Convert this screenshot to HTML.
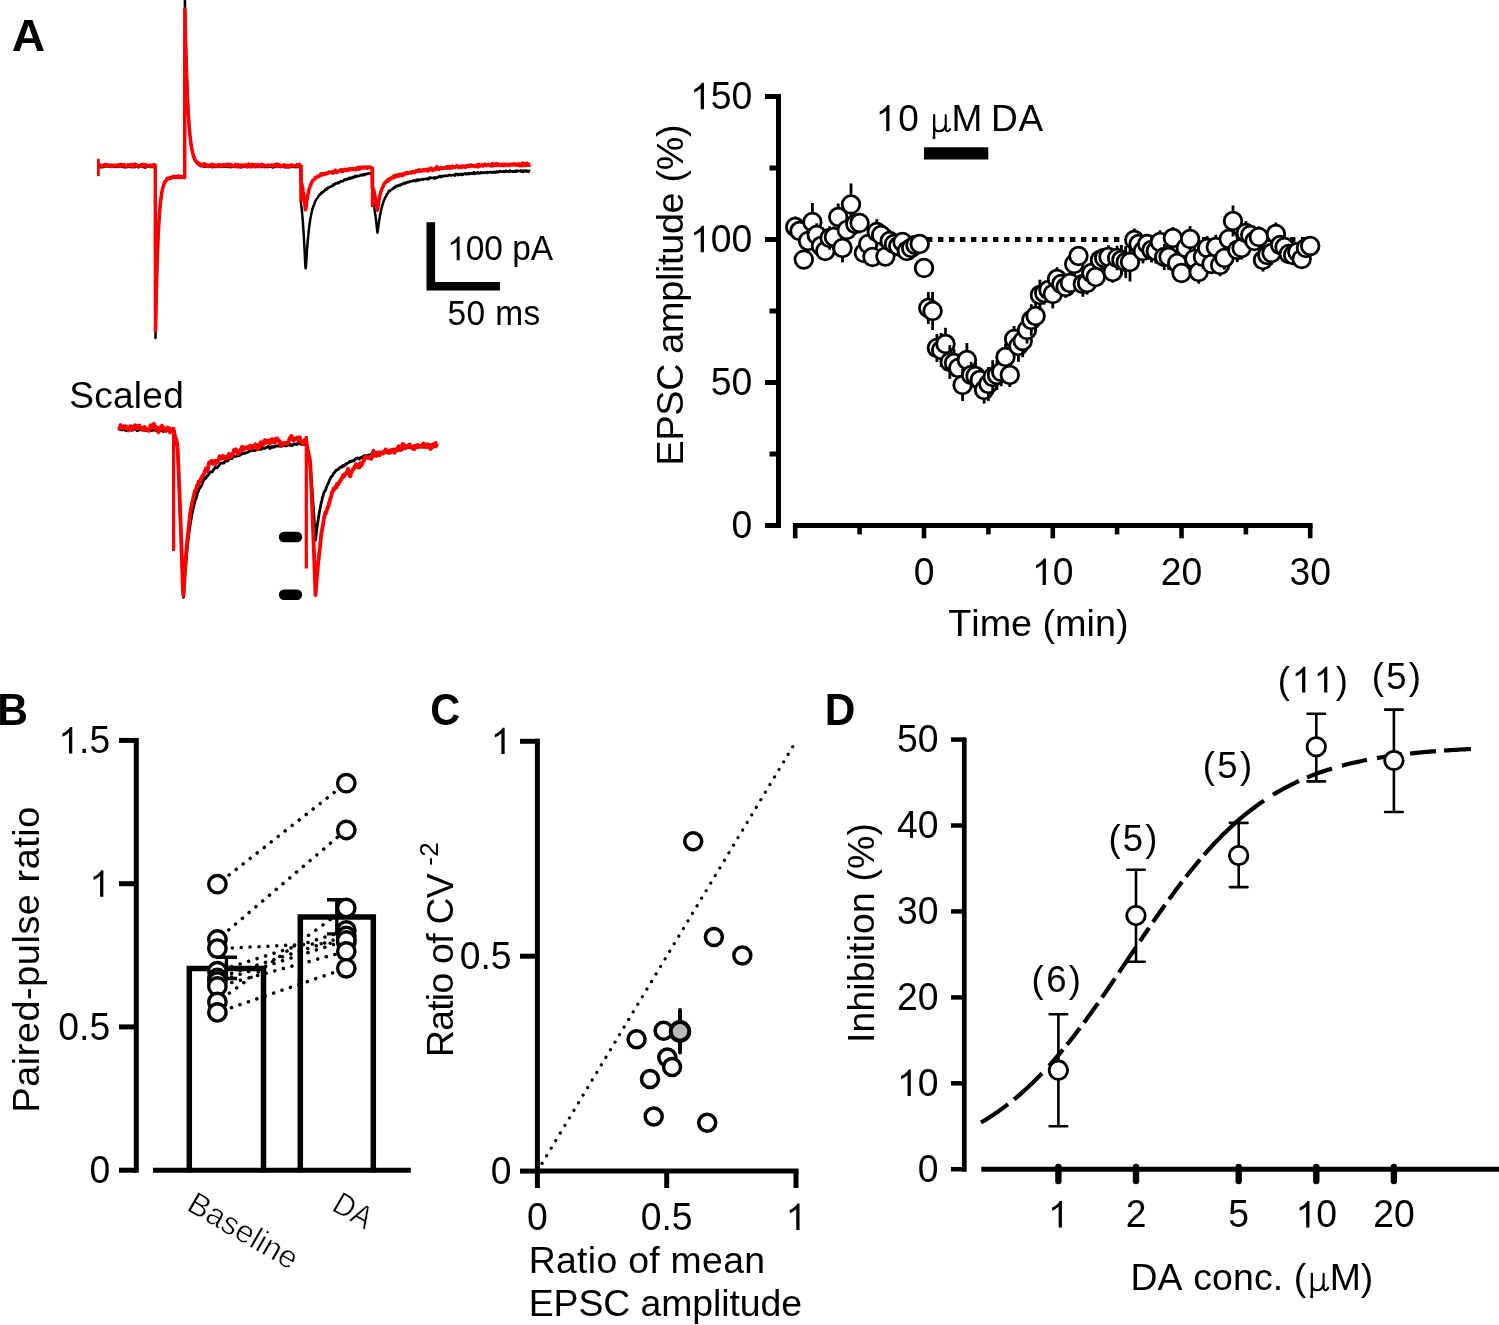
<!DOCTYPE html>
<html><head><meta charset="utf-8"><title>Figure</title>
<style>
html,body{margin:0;padding:0;background:#fff;}
svg{display:block;will-change:transform;}
text{font-family:"Liberation Sans",sans-serif;fill:#000;white-space:pre;}
</style></head><body>
<svg width="1499" height="1325" viewBox="0 0 1499 1325" font-family="Liberation Sans, sans-serif" fill="#000">
<rect x="0" y="0" width="1499" height="1325" fill="#fff"/>
<g fill="none" stroke-linejoin="round" stroke-linecap="butt">
<path d="M98.3 166.6 L98.8 167.1 L99.3 166.2 L99.8 167 L100.3 166.5 L100.8 166.5 L101.3 167.4 L101.8 166.7 L102.3 166.6 L102.8 166.9 L103.3 167.1 L103.8 166.6 L104.3 166.8 L104.8 166.2 L105.3 166.5 L105.8 166.4 L106.3 166.1 L106.8 166 L107.3 165.9 L107.8 166.5 L108.3 166.5 L108.8 166.5 L109.3 166.6 L109.8 166.1 L110.3 166.6 L110.8 166.7 L111.3 166.9 L111.8 166.3 L112.3 166.4 L112.8 165.8 L113.3 166.4 L113.8 165.7 L114.3 166 L114.8 167 L115.3 165.7 L115.8 166.9 L116.3 166.7 L116.8 166.5 L117.3 166.8 L117.8 166.8 L118.3 167 L118.8 166.5 L119.3 166.4 L119.8 166.4 L120.3 166.2 L120.8 166.6 L121.3 166.3 L121.8 167 L122.3 165.9 L122.8 166.2 L123.3 166.2 L123.8 165.8 L124.3 167.4 L124.8 165.6 L125.3 166.5 L125.8 166.4 L126.3 167.3 L126.8 165.8 L127.3 167 L127.8 166.3 L128.3 166.5 L128.8 166.3 L129.3 166.9 L129.8 166.1 L130.3 166.6 L130.8 166.7 L131.3 167.3 L131.8 165.6 L132.3 167.2 L132.8 167 L133.3 166.4 L133.8 166.7 L134.3 166.4 L134.8 167.3 L135.3 166.7 L135.8 166.5 L136.3 166.5 L136.8 166.5 L137.3 166.5 L137.8 166.2 L138.3 167.4 L138.8 165.8 L139.3 165.2 L139.8 166.6 L140.3 166.5 L140.8 166.7 L141.3 166.5 L141.8 166.5 L142.3 166.7 L142.8 167 L143.3 166.4 L143.8 166.5 L144.3 167.4 L144.8 166.8 L145.3 166.2 L145.8 167.5 L146.3 166.9 L146.8 166.4 L147.3 166.1 L147.8 166.7 L148.3 166.3 L148.8 166.2 L149.3 166.1 L149.8 166.4 L150.3 167 L150.8 166.4 L151.3 166 L151.8 166.9 L152.3 166.6 L152.8 166.9 L153.3 167.1 L153.8 166.5 L154.3 166.5 L154.8 166.6 L155.3 166.6 L155.5 338 L155.7 327.7 L156.1 307.4 L156.5 289.8 L156.9 274.1 L157.3 260.7 L157.7 249.2 L158.1 239.2 L158.5 230.7 L158.9 223.4 L159.3 217 L159.7 211.6 L160.1 206.6 L160.5 203 L160.9 199.4 L161.3 196.1 L161.7 193.2 L162.1 191.4 L162.5 189.8 L162.9 187.6 L163.3 186.2 L163.7 184.9 L164.1 184.1 L164.5 182.8 L164.9 182.5 L165.3 181.4 L165.7 181.1 L166.1 180.4 L166.5 179.9 L166.9 179.2 L167.3 179 L167.7 178.8 L168.1 178.8 L168.5 178.5 L168.9 178 L169.3 178.1 L169.7 178.1 L170.1 177.7 L170.5 177.5 L170.9 177.5 L171.3 177.7 L171.7 177.5 L172.1 177.1 L172.5 177.4 L172.9 177.1 L173.3 177 L173.7 177.4 L174.1 177.3 L174.5 176.9 L174.9 177.1 L175.3 177.2 L175.7 176.9 L176.1 177 L176.5 177.1 L176.9 176.5 L177.3 177 L177.7 177.1 L178.1 177 L178.5 176.6 L178.9 177 L179.3 176.7 L179.7 177 L180.1 177 L180.5 176.9 L180.9 176.7 L181.3 176.7 L181.7 177.1 L182.1 176.6 L182.5 177 L182.9 177 L183.3 176.8 L183.7 177.4 L184.1 176.9 L184.5 177.4 L184.7 176.8 L184.9 0 L185.1 9.2 L185.5 30.6 L186 49.7 L186.4 65.6 L186.9 79.2 L187.3 91.2 L187.8 101.1 L188.2 110.2 L188.7 117.8 L189.1 124.5 L189.6 130.5 L190 135.2 L190.5 139.5 L190.9 143 L191.4 146.2 L191.8 149.1 L192.3 151.3 L192.7 153.7 L193.2 155 L193.6 157.1 L194.1 157.8 L194.5 159.4 L195 160 L195.4 161.3 L195.9 161.8 L196.3 162.5 L196.8 163.1 L197.2 163.2 L197.7 163.4 L198.1 163.4 L198.6 165 L199 164.5 L199.5 164.7 L199.9 165.2 L200.4 166.1 L200.8 164.8 L201.3 165.7 L201.7 165.6 L202.2 166.1 L202.6 165.2 L203.1 165.9 L203.5 166.4 L204 166.8 L204.4 166.8 L204.9 165.9 L205.3 166.3 L205.8 166.3 L206.2 165.8 L206.7 165.8 L207.1 166.7 L207.6 166.5 L208 166.4 L208.5 166.9 L208.9 166 L209.4 166.7 L209.8 166.5 L210.3 166.5 L210.7 166.7 L211.2 166.6 L211.6 166.6 L212.1 166.6 L212.5 167.3 L213 166.4 L213.4 166.9 L213.9 166.8 L214.3 166.4 L214.8 166.9 L215.2 166.2 L215.7 167 L216.1 166.2 L216.6 166.4 L217 166.7 L217.5 166.9 L217.9 166.9 L218.4 166.9 L218.8 166.5 L219.3 166.2 L219.7 166.8 L220.2 166.7 L220.6 166.2 L221.1 167 L221.5 166.7 L222 166.2 L222.4 166.8 L222.9 166 L223.3 166.2 L223.8 166.7 L224.2 166 L224.7 166.6 L225.1 166 L225.6 166.9 L226 166.3 L226.5 166.7 L226.9 166 L227.4 166.4 L227.8 167 L228.3 166.8 L228.7 165.9 L229.2 167 L229.6 166.9 L230.1 166.4 L230.5 167.2 L231 166.2 L231.4 166.6 L231.9 167 L232.3 167.1 L232.8 167.1 L233.2 166.2 L233.7 165.9 L234.1 166.7 L234.6 166 L235 166.5 L235.5 166.1 L235.9 167 L236.4 166.9 L236.8 166.8 L237.3 166.6 L237.7 166.6 L238.2 166.5 L238.6 166.7 L239.1 166.7 L239.5 166.8 L240 166.4 L240.4 167.4 L240.9 166.7 L241.3 167.2 L241.8 167.1 L242.2 166.2 L242.7 165.9 L243.1 167.1 L243.6 166.4 L244 166.6 L244.5 166.5 L244.9 166.6 L245.4 166.1 L245.8 166.6 L246.3 166.4 L246.7 166.6 L247.2 165.7 L247.6 166.9 L248.1 166.7 L248.5 165.9 L249 166.3 L249.4 166.6 L249.9 166.9 L250.3 166.6 L250.8 167.2 L251.2 166.6 L251.7 166.2 L252.1 166.3 L252.6 166.9 L253 166.4 L253.5 166.9 L253.9 167 L254.4 166.8 L254.8 167 L255.3 166.5 L255.7 166.6 L256.2 166.4 L256.6 166.4 L257.1 166 L257.5 166.4 L258 166.2 L258.4 166 L258.9 166.7 L259.3 166.8 L259.8 166.5 L260.2 167.1 L260.7 167 L261.1 167 L261.6 166.4 L262 166 L262.5 166.8 L262.9 166.7 L263.4 166.9 L263.8 166.8 L264.3 167.1 L264.7 166.5 L265.2 166.9 L265.6 166.2 L266.1 165.7 L266.5 166.4 L267 167.2 L267.4 165.9 L267.9 167 L268.3 166.3 L268.8 166.4 L269.2 166.6 L269.7 166.7 L270.1 166.2 L270.6 166.7 L271 166.8 L271.5 166.9 L271.9 166.3 L272.4 167.2 L272.8 167.4 L273.3 167.6 L273.7 166.1 L274.2 166.7 L274.6 165.9 L275.1 166.8 L275.5 166.8 L276 166.1 L276.4 166 L276.9 166.7 L277.3 166.9 L277.8 166.3 L278.2 166.5 L278.7 165.6 L279.1 166.3 L279.6 166.7 L280 166.7 L280.5 167.2 L280.9 166.1 L281.4 165.7 L281.8 166.8 L282.3 166.4 L282.7 166.7 L283.2 166.9 L283.6 166.8 L284.1 167.2 L284.5 167.1 L285 165.9 L285.4 166.6 L285.9 167.4 L286.3 166.4 L286.8 167 L287.2 166.6 L287.7 166.4 L288.1 167.2 L288.6 167 L289 166.5 L289.5 167 L289.9 166.1 L290.4 166.3 L290.8 167 L291.3 166.6 L291.7 166.2 L292.2 166.8 L292.6 166.7 L293.1 167.1 L293.5 167 L294 166.5 L294.4 166.4 L294.9 166.5 L295.3 166.5 L295.8 167.2 L296.2 167.2 L296.7 167.1 L297.1 166.8 L297.6 166.5 L298 167 L298.5 166.5 L298.9 166.7 L299.4 165.9 L299.8 166.4 L300.3 167.2 L300.7 166.2 L301 203.7 L301.4 206.4 L301.9 210.5 L302.3 215.3 L302.8 220.8 L303.2 227.2 L303.7 234.4 L304.1 242 L304.6 250.3 L305 259.1 L305.5 268.2 L305.9 267.7 L306.4 259.8 L306.8 252.8 L307.3 246.5 L307.7 241.2 L308.2 236.5 L308.6 231.8 L309.1 227.9 L309.5 224.6 L310 221.4 L310.4 218.5 L310.9 216.3 L311.3 213.8 L311.8 211.8 L312.2 209.8 L312.7 208.1 L313.1 206.9 L313.6 205.9 L314 205 L314.5 203.5 L314.9 202.2 L315.4 200.8 L315.8 200.4 L316.3 199.2 L316.7 198.8 L317.2 198.5 L317.6 197.6 L318.1 196.8 L318.5 196 L319 195.7 L319.4 195.2 L319.9 194.3 L320.3 194 L320.8 194.1 L321.2 192.7 L321.7 192.8 L322.1 192.1 L322.6 192.8 L323 192 L323.5 191.6 L323.9 191.2 L324.4 190.8 L324.8 190.5 L325.3 189.4 L325.7 189.8 L326.2 189.7 L326.6 188.5 L327.1 189.2 L327.5 188.8 L328 187.6 L328.4 187.8 L328.9 187.6 L329.3 187.2 L329.8 187.3 L330.2 186.4 L330.7 186.5 L331.1 186.5 L331.6 186.4 L332 185.9 L332.5 185.5 L332.9 185.7 L333.4 184.4 L333.8 185.3 L334.3 184.6 L334.7 184 L335.2 184.1 L335.6 183.3 L336.1 183 L336.5 183.5 L337 183.1 L337.4 183.5 L337.9 182.6 L338.3 182.2 L338.8 182.2 L339.2 183 L339.7 182.2 L340.1 181.7 L340.6 181.4 L341 181.1 L341.5 181.3 L341.9 181.4 L342.4 181.5 L342.8 181.3 L343.3 180.8 L343.7 180.2 L344.2 180 L344.6 179.2 L345.1 179.6 L345.5 180 L346 179.5 L346.4 179.6 L346.9 178.8 L347.3 179.5 L347.8 179.1 L348.2 178.9 L348.7 178.9 L349.1 177.7 L349.6 178.2 L350 177.9 L350.5 178.8 L350.9 177.9 L351.4 177.6 L351.8 178 L352.3 177.1 L352.7 178 L353.2 177 L353.6 177.1 L354.1 176.7 L354.5 177.2 L355 175.9 L355.4 176.9 L355.9 176.2 L356.3 176.4 L356.8 175.8 L357.2 176.2 L357.7 176.1 L358.1 176.2 L358.6 175.9 L359 175.9 L359.5 176 L359.9 175.3 L360.4 174.9 L360.8 174.7 L361.3 175.4 L361.7 174.9 L362.2 175.3 L362.6 174.8 L363.1 174.3 L363.5 175 L364 175.3 L364.4 174.3 L364.9 173.9 L365.3 173.9 L365.8 174.5 L366.2 173.8 L366.7 173.8 L367.1 174.1 L367.6 173.8 L368 173.7 L368.5 173.4 L368.9 173.2 L369.4 173.5 L369.8 173.4 L370.3 173.5 L370.7 173 L371.2 173.2 L371.6 173.2 L372.1 173 L372.4 200.5 L372.9 201.7 L373.4 203.5 L373.9 205.9 L374.4 208.6 L374.9 212 L375.4 215.4 L375.9 219.2 L376.4 223.3 L376.9 227.8 L377.4 232.7 L377.9 229.9 L378.4 225.9 L378.9 222.4 L379.4 219 L379.9 216.2 L380.4 213.4 L380.9 211 L381.4 208.9 L381.9 207 L382.4 205.1 L382.9 203.4 L383.4 202 L383.9 200.5 L384.4 199.7 L384.9 198.1 L385.4 197.2 L385.9 196.6 L386.4 195.6 L386.9 194.1 L387.4 193.7 L387.9 193.3 L388.4 192.1 L388.9 190.9 L389.4 191.3 L389.9 190.8 L390.4 190.5 L390.9 190 L391.4 189.6 L391.9 189.2 L392.4 189.3 L392.9 188.6 L393.4 188.3 L393.9 187.6 L394.4 187.9 L394.9 187.1 L395.4 187.2 L395.9 185.8 L396.4 186.5 L396.9 186.1 L397.4 185.7 L397.9 186.2 L398.4 185.6 L398.9 185.2 L399.4 184.8 L399.9 185.6 L400.4 185 L400.9 184.7 L401.4 184 L401.9 184.6 L402.4 184.2 L402.9 183.7 L403.4 183.6 L403.9 182.8 L404.4 183.6 L404.9 182.7 L405.4 183.4 L405.9 182.7 L406.4 182.5 L406.9 182.7 L407.4 182.5 L407.9 181.9 L408.4 182.2 L408.9 182.3 L409.4 181.8 L409.9 181.3 L410.4 181.6 L410.9 181.2 L411.4 181.2 L411.9 181.4 L412.4 181.2 L412.9 181 L413.4 180.3 L413.9 181 L414.4 180.7 L414.9 180.5 L415.4 180.6 L415.9 181.2 L416.4 179.9 L416.9 179.6 L417.4 180.5 L417.9 179.8 L418.4 180.5 L418.9 179.5 L419.4 179.6 L419.9 180 L420.4 180 L420.9 179.7 L421.4 179.6 L421.9 179.3 L422.4 179.1 L422.9 179.1 L423.4 179.6 L423.9 179.3 L424.4 179 L424.9 179 L425.4 179.1 L425.9 179.2 L426.4 178.6 L426.9 178.6 L427.4 178.7 L427.9 179.5 L428.4 178.5 L428.9 178.8 L429.4 177.6 L429.9 178.5 L430.4 177.6 L430.9 177.6 L431.4 177.8 L431.9 177.9 L432.4 178 L432.9 177.9 L433.4 177.8 L433.9 177.4 L434.4 178.6 L434.9 177.6 L435.4 177.6 L435.9 178.1 L436.4 177.6 L436.9 177.4 L437.4 177.2 L437.9 177.7 L438.4 176.5 L438.9 176.4 L439.4 176.8 L439.9 175.9 L440.4 176.3 L440.9 177 L441.4 176.3 L441.9 176.4 L442.4 176.6 L442.9 175.8 L443.4 176.3 L443.9 175.8 L444.4 175.6 L444.9 175.8 L445.4 175.9 L445.9 175.7 L446.4 175.5 L446.9 176.1 L447.4 176.1 L447.9 175.8 L448.4 175.5 L448.9 175 L449.4 175.1 L449.9 174.9 L450.4 175.4 L450.9 175.6 L451.4 175.5 L451.9 175.1 L452.4 174.9 L452.9 175.1 L453.4 175 L453.9 175.1 L454.4 175.4 L454.9 174.5 L455.4 175.6 L455.9 173.8 L456.4 173.9 L456.9 174 L457.4 174.1 L457.9 174.4 L458.4 175.2 L458.9 174.1 L459.4 174.8 L459.9 174.1 L460.4 174.3 L460.9 173.8 L461.4 175 L461.9 174.1 L462.4 173.8 L462.9 174.9 L463.4 174 L463.9 174.1 L464.4 173.8 L464.9 173.5 L465.4 173.2 L465.9 173.7 L466.4 174.4 L466.9 173.8 L467.4 173.6 L467.9 174 L468.4 173.2 L468.9 174.1 L469.4 173.5 L469.9 173.1 L470.4 173.7 L470.9 173.6 L471.4 173.2 L471.9 173.4 L472.4 173.6 L472.9 173.8 L473.4 172.9 L473.9 172.1 L474.4 173.9 L474.9 173 L475.4 172.9 L475.9 173.2 L476.4 172.8 L476.9 173.4 L477.4 172.4 L477.9 172.8 L478.4 172.4 L478.9 173.4 L479.4 172.7 L479.9 173.2 L480.4 173.3 L480.9 172.2 L481.4 172.6 L481.9 172.9 L482.4 172.7 L482.9 172.6 L483.4 172.9 L483.9 172.9 L484.4 172.3 L484.9 172.4 L485.4 172.7 L485.9 172.5 L486.4 172.5 L486.9 172 L487.4 173.1 L487.9 172.3 L488.4 172.4 L488.9 172.3 L489.4 172.3 L489.9 172.3 L490.4 171.9 L490.9 172.4 L491.4 172.7 L491.9 172.3 L492.4 172.4 L492.9 172.3 L493.4 172.1 L493.9 172.8 L494.4 171.8 L494.9 172.2 L495.4 172.4 L495.9 172.1 L496.4 171.5 L496.9 171.5 L497.4 172.5 L497.9 171.5 L498.4 171.9 L498.9 172.1 L499.4 171.9 L499.9 171.1 L500.4 171.1 L500.9 171.8 L501.4 171.5 L501.9 171.7 L502.4 171.8 L502.9 171.8 L503.4 171.2 L503.9 171 L504.4 172 L504.9 171.4 L505.4 171.2 L505.9 170.8 L506.4 171.8 L506.9 171.1 L507.4 171.2 L507.9 171.8 L508.4 171.7 L508.9 171.8 L509.4 171 L509.9 170.4 L510.4 171.1 L510.9 171.3 L511.4 171.2 L511.9 171.8 L512.4 171.6 L512.9 171 L513.4 171.6 L513.9 171.3 L514.4 171.2 L514.9 171.8 L515.4 170.7 L515.9 171.7 L516.4 171.8 L516.9 170.5 L517.4 171.2 L517.9 171.2 L518.4 170.8 L518.9 171 L519.4 170.9 L519.9 171.3 L520.4 171 L520.9 170.4 L521.4 171.7 L521.9 171.5 L522.4 170.8 L522.9 171.5 L523.4 172 L523.9 170.5 L524.4 171 L524.9 170.9 L525.4 171.3 L525.9 171 L526.4 170.5 L526.9 171.6 L527.4 170.9 L527.9 171.4 L528.4 172 L528.9 170.7 L529.4 170.9 L529.9 171.4" stroke="#000" stroke-width="2.5"/>
<path d="M98.3 165.4 L98.8 165.8 L99.3 165.4 L99.8 165.3 L100.3 165 L100.8 165.4 L101.3 166.1 L101.8 165.7 L102.3 166.1 L102.8 165.6 L103.3 165.7 L103.8 165.6 L104.3 164.6 L104.8 166 L105.3 165.8 L105.8 165.8 L106.3 164.6 L106.8 164.5 L107.3 165 L107.8 165.2 L108.3 165.7 L108.8 165.5 L109.3 165.8 L109.8 165.1 L110.3 165.7 L110.8 165.7 L111.3 165.1 L111.8 166.4 L112.3 165.8 L112.8 166.2 L113.3 165.2 L113.8 165.1 L114.3 165.3 L114.8 165.4 L115.3 165.8 L115.8 165.6 L116.3 165.3 L116.8 165 L117.3 165.2 L117.8 166.2 L118.3 165.1 L118.8 165.6 L119.3 165.7 L119.8 164.7 L120.3 165.5 L120.8 166.2 L121.3 164.4 L121.8 165.3 L122.3 165.4 L122.8 165.1 L123.3 165.8 L123.8 165.5 L124.3 164.7 L124.8 166 L125.3 165.9 L125.8 166 L126.3 166.3 L126.8 165.7 L127.3 165.6 L127.8 164.8 L128.3 165.8 L128.8 165.2 L129.3 165.3 L129.8 164.8 L130.3 165 L130.8 165.2 L131.3 166.2 L131.8 164.4 L132.3 164.7 L132.8 165.6 L133.3 166.3 L133.8 165.8 L134.3 164.5 L134.8 164.1 L135.3 165.7 L135.8 165.1 L136.3 164.9 L136.8 166 L137.3 166.1 L137.8 165.6 L138.3 165.6 L138.8 165.7 L139.3 166.4 L139.8 165.8 L140.3 165.8 L140.8 165.8 L141.3 164.6 L141.8 166.2 L142.3 166 L142.8 165.8 L143.3 164.4 L143.8 165.2 L144.3 166 L144.8 164.5 L145.3 165.4 L145.8 166.1 L146.3 164.8 L146.8 166.4 L147.3 165.8 L147.8 165.4 L148.3 165.7 L148.8 165.9 L149.3 165.6 L149.8 166.1 L150.3 165.1 L150.8 165.3 L151.3 166.1 L151.8 165.5 L152.3 165 L152.8 166 L153.3 166.3 L153.8 165.3 L154.3 164.7 L154.8 165.4 L155.3 165.5 L155.5 331 L155.7 321.4 L156.1 301.6 L156.5 285.1 L156.9 269.5 L157.3 257.6 L157.7 245.8 L158.1 236.5 L158.5 228.8 L158.9 221.9 L159.3 215.8 L159.7 210.3 L160.1 205.8 L160.5 201.9 L160.9 198.6 L161.3 195.5 L161.7 193.1 L162.1 191 L162.5 189 L162.9 187.6 L163.3 186.1 L163.7 185.4 L164.1 183.8 L164.5 182.6 L164.9 181.9 L165.3 181.3 L165.7 181.1 L166.1 180.1 L166.5 179.9 L166.9 180 L167.3 178.2 L167.7 178.4 L168.1 178.6 L168.5 178.5 L168.9 178.2 L169.3 177.9 L169.7 178.1 L170.1 177.8 L170.5 177.5 L170.9 178.3 L171.3 177.6 L171.7 177.2 L172.1 177.3 L172.5 177.2 L172.9 177.2 L173.3 176.3 L173.7 177 L174.1 177.4 L174.5 176.7 L174.9 177 L175.3 177.3 L175.7 177.3 L176.1 177.5 L176.5 176.4 L176.9 176.8 L177.3 176.8 L177.7 177.1 L178.1 177.3 L178.5 176 L178.9 177.3 L179.3 176.4 L179.7 177.1 L180.1 176.4 L180.5 176.9 L180.9 177.3 L181.3 176.8 L181.7 176.9 L182.1 177.1 L182.5 176.9 L182.9 176.8 L183.3 177.4 L183.7 177.2 L184.1 176.7 L184.5 177.7 L184.7 176.8 L184.9 9 L185.1 17.6 L185.5 38.4 L186 55.4 L186.4 70.5 L186.9 83.6 L187.3 94.7 L187.8 104.5 L188.2 112.2 L188.7 119.4 L189.1 126.2 L189.6 131.1 L190 135.7 L190.5 139.6 L190.9 143.8 L191.4 146.6 L191.8 149.4 L192.3 150.9 L192.7 153.1 L193.2 154.5 L193.6 156.4 L194.1 157.9 L194.5 158.3 L195 159.9 L195.4 160.5 L195.9 160.9 L196.3 161 L196.8 162.4 L197.2 162.4 L197.7 162.5 L198.1 163.4 L198.6 163.7 L199 164.6 L199.5 163.4 L199.9 164.8 L200.4 165.1 L200.8 165.3 L201.3 164.5 L201.7 164.3 L202.2 165.3 L202.6 164.9 L203.1 165 L203.5 165.8 L204 164.9 L204.4 163.8 L204.9 164.9 L205.3 164.2 L205.8 165.7 L206.2 165.4 L206.7 164.9 L207.1 165.3 L207.6 165.8 L208 165.4 L208.5 166.1 L208.9 165.3 L209.4 165.9 L209.8 166.2 L210.3 166.3 L210.7 165 L211.2 165.9 L211.6 164.4 L212.1 164.8 L212.5 164.3 L213 166 L213.4 164.8 L213.9 165.4 L214.3 165.3 L214.8 165.4 L215.2 165.1 L215.7 165.6 L216.1 166.4 L216.6 165.5 L217 165.7 L217.5 166 L217.9 165.4 L218.4 164.8 L218.8 165.2 L219.3 166.1 L219.7 164.6 L220.2 165.1 L220.6 166 L221.1 165.9 L221.5 165.5 L222 165.9 L222.4 165.6 L222.9 164.8 L223.3 164.6 L223.8 165.1 L224.2 166 L224.7 165.2 L225.1 165 L225.6 165.1 L226 164.6 L226.5 165.4 L226.9 164.8 L227.4 165.7 L227.8 164.2 L228.3 165.7 L228.7 165.1 L229.2 164.4 L229.6 165.9 L230.1 165.3 L230.5 164.3 L231 165 L231.4 165.7 L231.9 165.2 L232.3 165.9 L232.8 165.9 L233.2 165.9 L233.7 165.7 L234.1 166.2 L234.6 165.9 L235 165.7 L235.5 164.3 L235.9 166 L236.4 166.2 L236.8 165.3 L237.3 165.2 L237.7 166.6 L238.2 164.5 L238.6 165.8 L239.1 166.8 L239.5 165 L240 165.9 L240.4 166.5 L240.9 165.4 L241.3 165.8 L241.8 166 L242.2 165 L242.7 165.4 L243.1 165.7 L243.6 166 L244 165.5 L244.5 165.4 L244.9 164.9 L245.4 165.3 L245.8 166 L246.3 165.6 L246.7 165 L247.2 165 L247.6 167 L248.1 166.1 L248.5 165.8 L249 164.1 L249.4 165.8 L249.9 165.8 L250.3 166.4 L250.8 165.7 L251.2 165.5 L251.7 165.8 L252.1 164.4 L252.6 166.1 L253 165.7 L253.5 165.1 L253.9 166.2 L254.4 166.5 L254.8 164.7 L255.3 165.1 L255.7 165.7 L256.2 165.6 L256.6 165.3 L257.1 165 L257.5 166.7 L258 166.1 L258.4 164.8 L258.9 164.8 L259.3 166.4 L259.8 166 L260.2 166.5 L260.7 165.9 L261.1 165 L261.6 165.6 L262 164.3 L262.5 165.1 L262.9 165.5 L263.4 165.8 L263.8 165.1 L264.3 165.4 L264.7 165.8 L265.2 165.7 L265.6 165.9 L266.1 165.6 L266.5 165.3 L267 165.9 L267.4 165.5 L267.9 165 L268.3 165.2 L268.8 165.5 L269.2 165.4 L269.7 165.6 L270.1 165.5 L270.6 165.6 L271 165.4 L271.5 164.8 L271.9 165.7 L272.4 166.1 L272.8 165.7 L273.3 165.4 L273.7 165.7 L274.2 165 L274.6 164.5 L275.1 165.5 L275.5 165 L276 165.9 L276.4 164.9 L276.9 164.1 L277.3 164.9 L277.8 166.4 L278.2 165.3 L278.7 164.7 L279.1 165.1 L279.6 165.8 L280 165.8 L280.5 165.6 L280.9 166.3 L281.4 165.9 L281.8 165.5 L282.3 165.8 L282.7 166.4 L283.2 166 L283.6 166.1 L284.1 164.9 L284.5 165.4 L285 165.9 L285.4 165.3 L285.9 166.1 L286.3 165.8 L286.8 166 L287.2 165.4 L287.7 166.9 L288.1 166.2 L288.6 165.4 L289 165.5 L289.5 166.9 L289.9 165.3 L290.4 166 L290.8 166 L291.3 165.5 L291.7 164.9 L292.2 165.6 L292.6 165.7 L293.1 166.1 L293.5 165.9 L294 165.5 L294.4 166 L294.9 165.8 L295.3 165.6 L295.8 165.5 L296.2 165.4 L296.7 165.9 L297.1 164.9 L297.6 165.2 L298 165.5 L298.5 164.7 L298.9 165.3 L299.4 164.4 L299.8 165.1 L300.3 165.8 L300.7 165.8 L301 181.7 L301.4 182.7 L301.9 184.2 L302.3 186.9 L302.8 189.1 L303.2 192 L303.7 194.8 L304.1 198.2 L304.6 201.5 L305 205.8 L305.5 209.8 L305.9 208.7 L306.4 204.9 L306.8 201.4 L307.3 198 L307.7 195.3 L308.2 193.1 L308.6 191.1 L309.1 189.2 L309.5 187.9 L310 186.6 L310.4 185.4 L310.9 184.4 L311.3 183.6 L311.8 182.7 L312.2 181 L312.7 180.8 L313.1 179.9 L313.6 179.4 L314 179.4 L314.5 179 L314.9 178.9 L315.4 177.4 L315.8 177.2 L316.3 177.6 L316.7 177.2 L317.2 176.9 L317.6 176.8 L318.1 176.1 L318.5 176.7 L319 176.3 L319.4 175.9 L319.9 175.4 L320.3 175.4 L320.8 173.9 L321.2 174.7 L321.7 175.1 L322.1 174 L322.6 174.8 L323 174.6 L323.5 173.7 L323.9 174.1 L324.4 174 L324.8 174.3 L325.3 174.2 L325.7 173.7 L326.2 173.1 L326.6 173.4 L327.1 173.3 L327.5 173.6 L328 173.3 L328.4 172.6 L328.9 172.2 L329.3 172.6 L329.8 172.3 L330.2 172 L330.7 172.4 L331.1 172.1 L331.6 172.3 L332 172.4 L332.5 171.8 L332.9 173.2 L333.4 171.7 L333.8 172.4 L334.3 171.7 L334.7 172.2 L335.2 170.2 L335.6 171 L336.1 171.4 L336.5 171.6 L337 172.4 L337.4 171.2 L337.9 171.7 L338.3 171.3 L338.8 171.3 L339.2 171 L339.7 170.6 L340.1 170.9 L340.6 169.9 L341 171.1 L341.5 169.8 L341.9 170.4 L342.4 171.4 L342.8 170 L343.3 170.1 L343.7 170.6 L344.2 169.9 L344.6 169.4 L345.1 169.9 L345.5 170.1 L346 170.1 L346.4 169.2 L346.9 170.5 L347.3 170.4 L347.8 169.4 L348.2 169.5 L348.7 169.1 L349.1 170 L349.6 168.8 L350 169.5 L350.5 168.8 L350.9 168.7 L351.4 169.4 L351.8 169.7 L352.3 168.9 L352.7 168.5 L353.2 169.2 L353.6 168.7 L354.1 168.9 L354.5 169.5 L355 169.2 L355.4 168.3 L355.9 169.8 L356.3 168.5 L356.8 168.8 L357.2 168 L357.7 168.3 L358.1 167.3 L358.6 169.2 L359 169 L359.5 167.5 L359.9 167.3 L360.4 167.2 L360.8 168.7 L361.3 167.8 L361.7 167.9 L362.2 167.8 L362.6 167.8 L363.1 167.3 L363.5 167.8 L364 167 L364.4 167.7 L364.9 167.9 L365.3 167.9 L365.8 167.5 L366.2 167.1 L366.7 167.7 L367.1 167.3 L367.6 168.4 L368 167.9 L368.5 167.4 L368.9 167.2 L369.4 167 L369.8 166.9 L370.3 167.2 L370.7 167.5 L371.2 167.6 L371.6 167.6 L372.1 168.4 L372.4 187 L372.9 187.9 L373.4 189.8 L373.9 190.7 L374.4 193 L374.9 195.4 L375.4 198 L375.9 200.8 L376.4 203.7 L376.9 206.9 L377.4 210.2 L377.9 207.8 L378.4 203.8 L378.9 200.9 L379.4 198.3 L379.9 195.8 L380.4 193.7 L380.9 192.1 L381.4 190.3 L381.9 189 L382.4 187.8 L382.9 186.6 L383.4 185.6 L383.9 184.7 L384.4 183.1 L384.9 183.1 L385.4 182.8 L385.9 181.7 L386.4 181.4 L386.9 181.4 L387.4 180 L387.9 180.5 L388.4 180.8 L388.9 179.1 L389.4 179.2 L389.9 178.7 L390.4 179.4 L390.9 178.4 L391.4 178.5 L391.9 177.4 L392.4 177.5 L392.9 177.3 L393.4 176.2 L393.9 177.7 L394.4 177.3 L394.9 175.6 L395.4 176.8 L395.9 176.2 L396.4 176.3 L396.9 176.1 L397.4 174.9 L397.9 175.5 L398.4 176.3 L398.9 175 L399.4 174.6 L399.9 174.3 L400.4 174.2 L400.9 174.9 L401.4 175.6 L401.9 174.7 L402.4 174.5 L402.9 175.5 L403.4 173.8 L403.9 173.6 L404.4 174.2 L404.9 174.1 L405.4 173.1 L405.9 172.9 L406.4 173.6 L406.9 173.4 L407.4 172.5 L407.9 173 L408.4 172.7 L408.9 173.1 L409.4 172.7 L409.9 172.6 L410.4 172.3 L410.9 173 L411.4 173.1 L411.9 172 L412.4 172.6 L412.9 171.6 L413.4 172 L413.9 172.3 L414.4 172.6 L414.9 171.5 L415.4 171.5 L415.9 171.6 L416.4 170.6 L416.9 171.3 L417.4 170.9 L417.9 171.3 L418.4 170.4 L418.9 169.9 L419.4 170.9 L419.9 170.9 L420.4 170.4 L420.9 171.1 L421.4 170.4 L421.9 170.2 L422.4 170.7 L422.9 169.5 L423.4 169.9 L423.9 170.2 L424.4 170.6 L424.9 169.9 L425.4 170.1 L425.9 169.5 L426.4 170 L426.9 170.7 L427.4 169.3 L427.9 170.9 L428.4 169.2 L428.9 169.5 L429.4 169.5 L429.9 169.9 L430.4 168.6 L430.9 168.1 L431.4 169.5 L431.9 169.5 L432.4 169.4 L432.9 170.4 L433.4 169 L433.9 169 L434.4 169.3 L434.9 168.9 L435.4 169.6 L435.9 167.9 L436.4 168.4 L436.9 166.6 L437.4 168.9 L437.9 168.2 L438.4 168.9 L438.9 169.5 L439.4 168.2 L439.9 168.1 L440.4 167.9 L440.9 167.6 L441.4 167.7 L441.9 168.4 L442.4 168 L442.9 167.9 L443.4 167.8 L443.9 168.3 L444.4 168 L444.9 167.6 L445.4 168 L445.9 167.5 L446.4 166.9 L446.9 168.3 L447.4 167.7 L447.9 166.9 L448.4 168 L448.9 167.6 L449.4 166.5 L449.9 168.2 L450.4 167.4 L450.9 167.7 L451.4 167.3 L451.9 167 L452.4 166.2 L452.9 167.6 L453.4 167 L453.9 166.8 L454.4 167.1 L454.9 166.9 L455.4 167.2 L455.9 166.6 L456.4 166.8 L456.9 165.6 L457.4 166.5 L457.9 167 L458.4 167.4 L458.9 166.4 L459.4 166.5 L459.9 167.4 L460.4 166.3 L460.9 166.9 L461.4 167.4 L461.9 166.4 L462.4 167.1 L462.9 166 L463.4 166.4 L463.9 166.2 L464.4 166.3 L464.9 166.8 L465.4 167.5 L465.9 165.8 L466.4 165.8 L466.9 166.4 L467.4 165.5 L467.9 166.3 L468.4 166.3 L468.9 165.8 L469.4 166.3 L469.9 165.1 L470.4 166.3 L470.9 165 L471.4 165.5 L471.9 165.5 L472.4 165.6 L472.9 166.2 L473.4 165.8 L473.9 165.5 L474.4 166 L474.9 166.5 L475.4 165.7 L475.9 165.8 L476.4 166.3 L476.9 165.7 L477.4 164.8 L477.9 166.9 L478.4 166.7 L478.9 164.4 L479.4 165.4 L479.9 165.7 L480.4 165.9 L480.9 165.8 L481.4 165.2 L481.9 164.8 L482.4 165.4 L482.9 165.9 L483.4 164.7 L483.9 164.7 L484.4 165.2 L484.9 164.2 L485.4 165.1 L485.9 164.9 L486.4 165.4 L486.9 164.8 L487.4 164.6 L487.9 164.9 L488.4 165.1 L488.9 164.7 L489.4 165.1 L489.9 165.4 L490.4 165.7 L490.9 165.9 L491.4 164.5 L491.9 164.7 L492.4 163.6 L492.9 166 L493.4 164.5 L493.9 164.9 L494.4 165.2 L494.9 164.1 L495.4 165.1 L495.9 164.8 L496.4 163.8 L496.9 165 L497.4 165.5 L497.9 163.8 L498.4 165.2 L498.9 164.9 L499.4 165 L499.9 165 L500.4 165.5 L500.9 164.6 L501.4 165.2 L501.9 164.5 L502.4 165.1 L502.9 164.3 L503.4 164.6 L503.9 165.7 L504.4 164.9 L504.9 164.6 L505.4 164 L505.9 164.2 L506.4 164.8 L506.9 165.2 L507.4 164.9 L507.9 164.9 L508.4 164.6 L508.9 165.4 L509.4 164.4 L509.9 164.3 L510.4 165.1 L510.9 164.6 L511.4 164.4 L511.9 164.3 L512.4 164.4 L512.9 164.9 L513.4 164.7 L513.9 163.9 L514.4 164.8 L514.9 164.6 L515.4 164 L515.9 164.9 L516.4 164.4 L516.9 164.3 L517.4 164.9 L517.9 165.2 L518.4 164.1 L518.9 164.7 L519.4 164 L519.9 165.7 L520.4 164.2 L520.9 165.1 L521.4 164.1 L521.9 164.9 L522.4 165.7 L522.9 163 L523.4 164.2 L523.9 164.7 L524.4 164.4 L524.9 164 L525.4 165.6 L525.9 164.4 L526.4 163.5 L526.9 164.9 L527.4 163.4 L527.9 165 L528.4 164.1 L528.9 164.5 L529.4 165.1 L529.9 164.4" stroke="#f00" stroke-width="3.5"/>
<path d="M98.4 158.8 V176.2" stroke="#f00" stroke-width="2.8"/>
<path d="M301.1 165 V201.3" stroke="#f00" stroke-width="3.4"/>
<path d="M372.5 167.5 V207" stroke="#f00" stroke-width="3.4"/>
</g>
<path d="M430.8 222.2 V286.2 H499.9" fill="none" stroke="#000" stroke-width="8.6" stroke-linejoin="miter"/>
<g transform="translate(447.15 260.2) scale(1 1.03)"><text font-size="33.5" x="18.6 37.2 65.07 83.67" y="0">00pA</text><path transform="translate(0 0) scale(33.5 -32.04)" d="M0.3726 0 L0.2847 0 L0.2847 0.5601 C0.2635 0.5399 0.2358 0.5197 0.2014 0.4995 C0.1671 0.4793 0.1362 0.4642 0.1089 0.4541 L0.1089 0.5391 C0.158 0.5622 0.201 0.5902 0.2378 0.623 C0.2746 0.6559 0.3006 0.6878 0.3159 0.7188 L0.3726 0.7188 Z"/></g>
<g transform="translate(447.46 324.8) scale(1 1.03)"><text font-size="33.5" x="0 19.03 47.76 76.06" y="0">50ms</text></g>
<g fill="none" stroke-linejoin="round">
<path d="M119 429 L119.5 429.3 L120 429.8 L120.5 429.5 L121 429 L121.5 429.1 L122 429.4 L122.5 429.9 L123 429.3 L123.5 428.9 L124 429.3 L124.5 429.6 L125 430.2 L125.5 430.4 L126 430.1 L126.5 429.9 L127 430.8 L127.5 430.4 L128 429.8 L128.5 429.3 L129 429.4 L129.5 429.5 L130 429.4 L130.5 429.5 L131 429.6 L131.5 429.9 L132 430.3 L132.5 430.2 L133 429.3 L133.5 429.7 L134 429.1 L134.5 429.2 L135 428.7 L135.5 429 L136 428.9 L136.5 429.2 L137 430.7 L137.5 430.4 L138 430.5 L138.5 429.8 L139 429.6 L139.5 429.9 L140 429.8 L140.5 429.9 L141 429.9 L141.5 429.5 L142 429.8 L142.5 429.4 L143 430.3 L143.5 429.9 L144 430.2 L144.5 430 L145 430.4 L145.5 430 L146 430.3 L146.5 430.1 L147 430.5 L147.5 430.6 L148 430.4 L148.5 429.9 L149 430.2 L149.5 430.3 L150 430.8 L150.5 430.4 L151 430.5 L151.5 430.5 L152 430.4 L152.5 430.3 L153 430.3 L153.5 429.9 L154 429.5 L154.5 429.4 L155 429.8 L155.5 430.4 L156 430.7 L156.5 430.9 L157 430.9 L157.5 430.9 L158 430.7 L158.5 430.8 L159 431.2 L159.5 430.7 L160 430.2 L160.5 430.9 L161 430.8 L161.5 430.9 L162 431 L162.5 430.2 L163 431.1 L163.5 431.5 L164 431.2 L164.5 431.1 L165 430.9 L165.5 430.3 L166 430.1 L166.5 430.2 L167 430.6 L167.5 430.7 L168 430.5 L168.5 430.9 L169 430.4 L169.5 430.6 L170 430.9 L170.5 430.5 L171 429.7 L171.5 429.4 L172 429.7 L172.5 430 L173 430.6 L173.5 430.1 L174 433.1 L174.5 435.9 L175 438.1 L175.5 439.9 L176 442 L176.5 444 L177 445.8 L177.5 449.7 L178 459.5 L178.5 470.7 L179 482.9 L179.5 495.3 L180 508.2 L180.5 521.5 L181 535 L181.5 549 L182 563 L182.5 577.2 L183 591.8 L183.5 597.3 L184 589 L184.5 581.4 L185 574.1 L185.5 567.4 L186 561.3 L186.5 555.6 L187 550.5 L187.5 545.6 L188 541.2 L188.5 536.9 L189 532.8 L189.5 529.2 L190 525.9 L190.5 523 L191 519.7 L191.5 516.7 L192 513.5 L192.5 511.8 L193 510 L193.5 507.5 L194 505.2 L194.5 502.7 L195 501 L195.5 499.5 L196 498.7 L196.5 497.1 L197 495.1 L197.5 492.7 L198 492.2 L198.5 491 L199 489.2 L199.5 488.3 L200 486.7 L200.5 487.3 L201 486.6 L201.5 485.6 L202 484.4 L202.5 482.5 L203 481.7 L203.5 480.4 L204 480.1 L204.5 478.7 L205 477.9 L205.5 478 L206 478.1 L206.5 476.9 L207 475.7 L207.5 475.7 L208 475.5 L208.5 474.5 L209 473.7 L209.5 473 L210 472.2 L210.5 471.7 L211 471.9 L211.5 471.8 L212 472.1 L212.5 471.3 L213 470.6 L213.5 469.7 L214 469.2 L214.5 468.3 L215 467.4 L215.5 467.6 L216 467.9 L216.5 467.8 L217 467.8 L217.5 467.3 L218 466.4 L218.5 466 L219 465.5 L219.5 464.7 L220 463.8 L220.5 463.2 L221 463.2 L221.5 463.2 L222 462.9 L222.5 463.3 L223 463 L223.5 462.9 L224 463 L224.5 462.2 L225 461 L225.5 461.2 L226 460.7 L226.5 461.1 L227 460.9 L227.5 460.9 L228 460.8 L228.5 459.5 L229 459.6 L229.5 459.1 L230 458.6 L230.5 458.3 L231 458.5 L231.5 458.6 L232 458.7 L232.5 457.6 L233 457.2 L233.5 456.2 L234 456.2 L234.5 456.5 L235 456.1 L235.5 456.2 L236 456.2 L236.5 456.4 L237 455.8 L237.5 455.3 L238 454.9 L238.5 455.6 L239 455.8 L239.5 455.3 L240 455.1 L240.5 454.9 L241 454.7 L241.5 454.4 L242 454 L242.5 453.3 L243 453.1 L243.5 453.7 L244 453.7 L244.5 453.5 L245 453.2 L245.5 453 L246 452.9 L246.5 452.5 L247 452.4 L247.5 452.4 L248 451.9 L248.5 451.5 L249 451.1 L249.5 450.7 L250 451.2 L250.5 450.2 L251 450.3 L251.5 450.2 L252 450.1 L252.5 450.2 L253 450.7 L253.5 450.6 L254 450.4 L254.5 450.1 L255 450 L255.5 450.3 L256 450 L256.5 449.4 L257 448.9 L257.5 448.6 L258 448.2 L258.5 448.9 L259 449.1 L259.5 449 L260 449.5 L260.5 449 L261 449.2 L261.5 449.3 L262 448.5 L262.5 447.8 L263 447.6 L263.5 448.1 L264 448.6 L264.5 447.9 L265 448.3 L265.5 448 L266 447.8 L266.5 447.5 L267 447.4 L267.5 446.7 L268 446.5 L268.5 446.2 L269 446.7 L269.5 447.6 L270 448.6 L270.5 448 L271 447 L271.5 446.8 L272 446.4 L272.5 447.3 L273 447.3 L273.5 446.8 L274 447.1 L274.5 447.1 L275 446.2 L275.5 446 L276 446 L276.5 446 L277 446.1 L277.5 445.9 L278 446 L278.5 445.7 L279 445.4 L279.5 446.1 L280 446.1 L280.5 446.2 L281 445.4 L281.5 445.4 L282 445.7 L282.5 445.1 L283 445.6 L283.5 445.4 L284 445.5 L284.5 445.4 L285 445.4 L285.5 445.8 L286 445.4 L286.5 445.9 L287 445.4 L287.5 444.9 L288 445.1 L288.5 444.6 L289 444.5 L289.5 444.9 L290 445.4 L290.5 444.4 L291 444.7 L291.5 445.4 L292 445.6 L292.5 445.2 L293 444.8 L293.5 444.5 L294 444 L294.5 444 L295 444 L295.5 444 L296 444.5 L296.5 444.3 L297 443.7 L297.5 444.2 L298 443.7 L298.5 443.6 L299 443.7 L299.5 443.6 L300 443.3 L300.5 443.4 L301 444.4 L301.5 444 L302 443.9 L302.5 444.3 L303 444.4 L303.5 444.5 L304 444.6 L304.5 443.6 L305 443.2 L305.5 443.4 L306 443.6 L306.5 446.4 L307 450.2 L307.5 453.2 L308 455.7 L308.5 458.1 L309 460.3 L309.5 462.5 L310 464.4 L310.5 469.1 L311 474.9 L311.5 481.4 L312 488.2 L312.5 495.2 L313 502.3 L313.5 509.7 L314 517.1 L314.5 524.7 L315 532.3 L315.5 540.1 L316 535.6 L316.5 531.6 L317 527.7 L317.5 524.1 L318 520.7 L318.5 517.7 L319 514.5 L319.5 511.6 L320 509.1 L320.5 506.2 L321 504.2 L321.5 501.8 L322 499.8 L322.5 497.2 L323 495.9 L323.5 494.1 L324 492.2 L324.5 491.7 L325 490.5 L325.5 490.3 L326 488.7 L326.5 486.9 L327 485.6 L327.5 484.9 L328 483.6 L328.5 482.5 L329 481.6 L329.5 480.1 L330 479.3 L330.5 478.2 L331 476.9 L331.5 476.7 L332 476.3 L332.5 475.6 L333 474.5 L333.5 473.2 L334 473 L334.5 472.6 L335 471.5 L335.5 471.2 L336 470.3 L336.5 470.1 L337 469.9 L337.5 469.8 L338 469.5 L338.5 469.2 L339 468.3 L339.5 467.9 L340 467.4 L340.5 467.1 L341 467 L341.5 467 L342 467.3 L342.5 465.7 L343 465.7 L343.5 465.4 L344 466 L344.5 465.9 L345 464.7 L345.5 464.6 L346 464 L346.5 464.2 L347 463.4 L347.5 463.2 L348 462.9 L348.5 462.7 L349 462.2 L349.5 461.4 L350 461.6 L350.5 461.9 L351 461.6 L351.5 461 L352 461 L352.5 461.1 L353 460.7 L353.5 460.5 L354 460.9 L354.5 460.1 L355 459.7 L355.5 458.8 L356 458.6 L356.5 458.4 L357 458.1 L357.5 457.9 L358 458.8 L358.5 458.5 L359 458.3 L359.5 459.1 L360 458.6 L360.5 457.6 L361 457.7 L361.5 457.2 L362 457.8 L362.5 457 L363 456.7 L363.5 456 L364 456.1 L364.5 455.7 L365 455.8 L365.5 455.7 L366 455.5 L366.5 455.9 L367 456.1 L367.5 455.9 L368 455.4 L368.5 454.8 L369 455 L369.5 455.9 L370 455.3 L370.5 454.8 L371 454.4 L371.5 453.9 L372 453.6 L372.5 453.6 L373 454.3 L373.5 454.1 L374 453.8 L374.5 453 L375 453.2 L375.5 453.2 L376 452.7 L376.5 452.4 L377 452.5 L377.5 453 L378 453.1 L378.5 453.1 L379 452.8 L379.5 452.8 L380 452.6 L380.5 453.3 L381 452.5 L381.5 452.2 L382 452.6 L382.5 452.2 L383 452.6 L383.5 452.3 L384 452.1 L384.5 451.7 L385 451 L385.5 450.7 L386 451.6 L386.5 451.7 L387 451.7 L387.5 451.8 L388 451.7 L388.5 451.8 L389 451.3 L389.5 450.9 L390 451.1 L390.5 450.7 L391 450 L391.5 449.9 L392 449.7 L392.5 450 L393 449.6 L393.5 449.2 L394 449.2 L394.5 449.9 L395 449.7 L395.5 449.7 L396 449.6 L396.5 449.6 L397 449.8 L397.5 450.2 L398 449.2 L398.5 449.6 L399 449.4 L399.5 449.1 L400 449.9 L400.5 449.5 L401 450 L401.5 449.9 L402 449.1 L402.5 449.1 L403 449.1 L403.5 448.8 L404 447.7 L404.5 447.6 L405 447.7 L405.5 447.3 L406 448.2 L406.5 448 L407 447.7 L407.5 447.6 L408 447.3 L408.5 447 L409 447.2 L409.5 447.4 L410 447.2 L410.5 447.2 L411 446.6 L411.5 447 L412 446.7 L412.5 446.9 L413 446.6 L413.5 446.5 L414 446.7 L414.5 446.2 L415 447.4 L415.5 447.2 L416 447 L416.5 446.6 L417 447.2 L417.5 447.6 L418 447.4 L418.5 446.6 L419 446.3 L419.5 446.6 L420 446.3 L420.5 445.8 L421 445.4 L421.5 445.3 L422 445.5 L422.5 445.4 L423 445.6 L423.5 446.8 L424 447.3 L424.5 446.5 L425 446.4 L425.5 446.3 L426 446.1 L426.5 446.4 L427 446 L427.5 445.8 L428 445.6 L428.5 445.5 L429 446 L429.5 446.2 L430 445.4 L430.5 445.2 L431 444.9 L431.5 445.4 L432 445.4 L432.5 445.7 L433 445.5 L433.5 444.7 L434 445 L434.5 445.1 L435 445.3 L435.5 444.7 L436 444.8 L436.5 444.6 L437 444.4" stroke="#000" stroke-width="2.8"/>
<path d="M119 426.9 L119.5 428.8 L120 427.3 L120.5 425 L121 425.9 L121.5 427.1 L122 427.6 L122.5 428.2 L123 427.8 L123.5 426.9 L124 426.1 L124.5 426.2 L125 426.1 L125.5 427.6 L126 428.4 L126.5 426.6 L127 427.7 L127.5 427.6 L128 429 L128.5 430.5 L129 430.4 L129.5 427.4 L130 428.2 L130.5 426.1 L131 428.5 L131.5 427.4 L132 427.2 L132.5 429.6 L133 426.9 L133.5 427.1 L134 425.9 L134.5 425.7 L135 425.3 L135.5 426.8 L136 426.7 L136.5 427.4 L137 428.3 L137.5 426 L138 428.2 L138.5 427.8 L139 425.6 L139.5 425.4 L140 427.1 L140.5 428.6 L141 427.5 L141.5 427.7 L142 428 L142.5 429.2 L143 428.7 L143.5 429.7 L144 428 L144.5 427 L145 428.1 L145.5 428.9 L146 428.5 L146.5 429.1 L147 429 L147.5 429.6 L148 430.6 L148.5 430.5 L149 430.8 L149.5 429.5 L150 428.3 L150.5 425.2 L151 426.4 L151.5 426.9 L152 427.8 L152.5 425.5 L153 425.5 L153.5 425.5 L154 423.8 L154.5 426.1 L155 428.2 L155.5 426.5 L156 427.4 L156.5 429.8 L157 427.7 L157.5 429 L158 430.7 L158.5 432.3 L159 429.4 L159.5 427.6 L160 428 L160.5 429.5 L161 427.5 L161.5 426.6 L162 425.6 L162.5 427.7 L163 427 L163.5 428 L164 428.8 L164.5 430.1 L165 430 L165.5 429.9 L166 430.9 L166.5 430.7 L167 428.3 L167.5 427.5 L168 428.8 L168.5 428.8 L169 428.1 L169.5 428.4 L170 432.6 L170.5 431.2 L171 431 L171.5 430.7 L172 429.6 L172.5 430.7 L173 431.1 L173.5 430.8 L174 430.8 L174.5 433.9 L175 436.3 L175.5 438.2 L176 439.1 L176.5 441 L177 442.4 L177.5 446.7 L178 456.7 L178.5 468 L179 480.5 L179.5 493.3 L180 506.7 L180.5 519.8 L181 533.5 L181.5 548 L182 562.3 L182.5 576.5 L183 590.9 L183.5 595.7 L184 586.1 L184.5 577.6 L185 569.5 L185.5 562.3 L186 555.6 L186.5 549.1 L187 543.6 L187.5 538.3 L188 534.9 L188.5 529.5 L189 525 L189.5 519.9 L190 514.7 L190.5 511.9 L191 508.5 L191.5 506.9 L192 503.6 L192.5 501.5 L193 499.6 L193.5 496.9 L194 495.4 L194.5 492.7 L195 490.7 L195.5 490.4 L196 489.4 L196.5 487.8 L197 485.3 L197.5 485.1 L198 486.4 L198.5 481.6 L199 482.1 L199.5 481.1 L200 481.3 L200.5 481.4 L201 478.3 L201.5 479.5 L202 477.2 L202.5 475.7 L203 475.6 L203.5 474.5 L204 473.9 L204.5 472.4 L205 470.4 L205.5 470.2 L206 468.5 L206.5 470.2 L207 469.9 L207.5 471.1 L208 468.4 L208.5 465.2 L209 462.6 L209.5 463 L210 462 L210.5 463.3 L211 461.8 L211.5 460.7 L212 461.9 L212.5 461.8 L213 463 L213.5 464 L214 464 L214.5 461.8 L215 460.7 L215.5 463.8 L216 462.7 L216.5 462.5 L217 462 L217.5 461.4 L218 460.7 L218.5 459.6 L219 458.8 L219.5 456.2 L220 459 L220.5 458.7 L221 456.8 L221.5 457.7 L222 458.5 L222.5 456.3 L223 455.8 L223.5 457.9 L224 458.2 L224.5 458.2 L225 458.8 L225.5 457.8 L226 456.7 L226.5 458.3 L227 457.1 L227.5 456.4 L228 456.7 L228.5 456 L229 453.9 L229.5 456.3 L230 455.4 L230.5 457.2 L231 456.7 L231.5 454.5 L232 456 L232.5 454.8 L233 453 L233.5 452.8 L234 449.8 L234.5 450.9 L235 450.1 L235.5 450.2 L236 449.3 L236.5 450.7 L237 451.2 L237.5 452.4 L238 454 L238.5 453.4 L239 452.6 L239.5 452.3 L240 450.6 L240.5 449.6 L241 450.6 L241.5 449.1 L242 446.7 L242.5 446.9 L243 447.8 L243.5 449.9 L244 448.7 L244.5 447.4 L245 447.8 L245.5 447.7 L246 448.1 L246.5 447.4 L247 447.8 L247.5 447 L248 448.4 L248.5 448.5 L249 448.8 L249.5 447.8 L250 445.7 L250.5 446.1 L251 446.2 L251.5 447.7 L252 448.6 L252.5 447.9 L253 447.4 L253.5 445.8 L254 445.8 L254.5 446.1 L255 445.5 L255.5 444.2 L256 446.2 L256.5 444.8 L257 447.1 L257.5 448.1 L258 449.2 L258.5 447 L259 447.2 L259.5 444.8 L260 444.3 L260.5 442.5 L261 442.1 L261.5 442.1 L262 444 L262.5 445.4 L263 444.6 L263.5 444.1 L264 442.9 L264.5 441.7 L265 440 L265.5 440.8 L266 442.4 L266.5 441.7 L267 442.7 L267.5 441.4 L268 440.7 L268.5 440.7 L269 442.5 L269.5 442 L270 443.3 L270.5 442.7 L271 441.4 L271.5 439.2 L272 439.6 L272.5 439.2 L273 441.3 L273.5 442.2 L274 440.2 L274.5 441.9 L275 442.7 L275.5 438.9 L276 438.5 L276.5 439.8 L277 438.4 L277.5 438.5 L278 440.1 L278.5 440.9 L279 441.7 L279.5 442.5 L280 441.2 L280.5 444.3 L281 444.2 L281.5 446.2 L282 444.5 L282.5 444.4 L283 443.9 L283.5 443 L284 442.9 L284.5 442.8 L285 443.3 L285.5 443.1 L286 442.6 L286.5 442.8 L287 444.1 L287.5 443.3 L288 443.4 L288.5 442.8 L289 439.8 L289.5 438.9 L290 438.2 L290.5 437.2 L291 437.3 L291.5 436 L292 437.6 L292.5 437.7 L293 440 L293.5 440.6 L294 438.9 L294.5 439 L295 439.4 L295.5 438.8 L296 438.7 L296.5 437.8 L297 437.5 L297.5 438.6 L298 438.6 L298.5 440.5 L299 437.7 L299.5 437.3 L300 437.6 L300.5 440.1 L301 441.4 L301.5 441.9 L302 442.5 L302.5 443.7 L303 443.4 L303.5 442.1 L304 441.6 L304.5 440.1 L305 439.7 L305.5 440.1 L306 439.3 L306.5 442 L307 445.7 L307.5 448.3 L308 450.6 L308.5 453.5 L309 455.8 L309.5 458.3 L310 460.2 L310.5 468.8 L311 479.3 L311.5 490.4 L312 502.7 L312.5 515.2 L313 527.9 L313.5 540.5 L314 553.6 L314.5 567.2 L315 581.4 L315.5 595.3 L316 588.4 L316.5 582.2 L317 576.2 L317.5 570.5 L318 564.9 L318.5 560.5 L319 555.8 L319.5 551.3 L320 547.2 L320.5 541.8 L321 536.6 L321.5 532 L322 530.6 L322.5 526.8 L323 525.1 L323.5 521.7 L324 517.9 L324.5 516 L325 514 L325.5 512.1 L326 513.2 L326.5 511.7 L327 509.1 L327.5 508.7 L328 506.5 L328.5 506.5 L329 502.6 L329.5 502.8 L330 499.8 L330.5 497.8 L331 497.3 L331.5 495 L332 492.3 L332.5 491.7 L333 491.1 L333.5 488.7 L334 490 L334.5 488.4 L335 487.4 L335.5 486.8 L336 486.6 L336.5 487.4 L337 483.9 L337.5 483.8 L338 484.6 L338.5 484.2 L339 483.4 L339.5 481.3 L340 481.4 L340.5 480.3 L341 480.1 L341.5 478.3 L342 477.8 L342.5 477.5 L343 475.4 L343.5 476.9 L344 476.4 L344.5 474.5 L345 474.2 L345.5 474.4 L346 473.8 L346.5 472.3 L347 472.2 L347.5 470.5 L348 468.8 L348.5 471 L349 473.2 L349.5 474.8 L350 476.3 L350.5 476.2 L351 473.1 L351.5 471.3 L352 471.9 L352.5 470.3 L353 469.2 L353.5 468.7 L354 468.8 L354.5 466.5 L355 466.5 L355.5 467 L356 464.1 L356.5 465.8 L357 466.6 L357.5 465 L358 467.2 L358.5 466.8 L359 466.6 L359.5 467.6 L360 463.2 L360.5 463.1 L361 464.3 L361.5 465.5 L362 464.5 L362.5 463.5 L363 461.9 L363.5 461.3 L364 460.1 L364.5 457.2 L365 457.4 L365.5 456.9 L366 456.9 L366.5 457.1 L367 457.1 L367.5 457.8 L368 458 L368.5 457.7 L369 457.1 L369.5 457.3 L370 457 L370.5 457 L371 458.9 L371.5 458.7 L372 457.7 L372.5 454.9 L373 453.5 L373.5 450.6 L374 453.3 L374.5 455.4 L375 455 L375.5 454.5 L376 455.4 L376.5 456 L377 453.5 L377.5 453.6 L378 453.4 L378.5 452.1 L379 454.5 L379.5 455.3 L380 454.1 L380.5 453.9 L381 453.1 L381.5 452.6 L382 452.2 L382.5 453.7 L383 453.5 L383.5 452.7 L384 451.8 L384.5 452.3 L385 451.2 L385.5 449.4 L386 449.9 L386.5 452.4 L387 451.3 L387.5 451.6 L388 451.3 L388.5 452.8 L389 452.9 L389.5 450.7 L390 452.9 L390.5 452.3 L391 450.7 L391.5 450 L392 450.1 L392.5 451.5 L393 450.7 L393.5 449.6 L394 451.3 L394.5 452.8 L395 451.4 L395.5 451 L396 451 L396.5 450.1 L397 448.7 L397.5 450.1 L398 448.4 L398.5 446.2 L399 447.6 L399.5 449.3 L400 450.1 L400.5 448.6 L401 448.2 L401.5 446.8 L402 446.5 L402.5 443.8 L403 443.9 L403.5 446.7 L404 445.5 L404.5 448.3 L405 448.3 L405.5 445.6 L406 447.2 L406.5 446 L407 447.1 L407.5 446.8 L408 446.4 L408.5 446.4 L409 444.8 L409.5 444.4 L410 444.6 L410.5 447.4 L411 446.4 L411.5 446.8 L412 447.3 L412.5 448.6 L413 447.6 L413.5 447.5 L414 445.9 L414.5 449.1 L415 446.4 L415.5 446.6 L416 446 L416.5 446.1 L417 445.4 L417.5 444.9 L418 446.3 L418.5 447.3 L419 446.7 L419.5 446.2 L420 446.2 L420.5 445.9 L421 446.3 L421.5 446.9 L422 447 L422.5 444.5 L423 444.6 L423.5 443.4 L424 444.4 L424.5 444.2 L425 444.8 L425.5 444.7 L426 445.9 L426.5 447.3 L427 446.8 L427.5 444.3 L428 444.4 L428.5 446.9 L429 445.4 L429.5 445 L430 447.9 L430.5 449 L431 448.5 L431.5 447.6 L432 444.9 L432.5 446.8 L433 447.1 L433.5 444.1 L434 443.9 L434.5 443.8 L435 443.7 L435.5 442.9 L436 446.3 L436.5 444.5 L437 446.1" stroke="#f00" stroke-width="3.8"/>
<path d="M173.6 427 V551" stroke="#f00" stroke-width="3.2"/>
<path d="M306.3 436 V568.5" stroke="#f00" stroke-width="3.2"/>
</g>
<path d="M284 537 H297 M284 594.8 H297" stroke="#000" stroke-width="10.4" stroke-linecap="round"/>
<g transform="translate(69.33 407.8)"><text font-size="37" x="0 24.94 43.69 64.53 73.01 93.84" y="0">Scaled</text></g>
<g transform="translate(11.84 51) scale(1.024 1)"><text font-size="45.2" font-weight="bold" x="0" y="0">A</text></g>
<g stroke="#000" stroke-width="5" fill="none" stroke-linecap="butt">
<path d="M778.5 94 V528"/>
<path d="M765 525.5 H778.5"/>
<path d="M765 382.5 H778.5"/>
<path d="M765 239.5 H778.5"/>
<path d="M765 96.5 H778.5"/>
<path d="M769.5 454 H778.5"/>
<path d="M769.5 311 H778.5"/>
<path d="M769.5 168 H778.5"/>
<path d="M793 525.5 H1312.6"/>
<path d="M795.2 525.5 V538.3" stroke-width="4.6"/>
<path d="M859.6 525.5 V534.4" stroke-width="4.6"/>
<path d="M924 525.5 V538.3" stroke-width="4.6"/>
<path d="M988.4 525.5 V534.4" stroke-width="4.6"/>
<path d="M1052.8 525.5 V538.3" stroke-width="4.6"/>
<path d="M1117.1 525.5 V534.4" stroke-width="4.6"/>
<path d="M1181.5 525.5 V538.3" stroke-width="4.6"/>
<path d="M1245.9 525.5 V534.4" stroke-width="4.6"/>
<path d="M1310.2 525.5 V538.3" stroke-width="4.6"/>
</g>
<path d="M927 239.5 H1312" stroke="#000" stroke-width="5" stroke-dasharray="5.4 5.6" fill="none"/>
<g stroke="#000" fill="#fff">
<path d="M795.2 216.5 V237.5" stroke-width="2.8"/><circle cx="795.2" cy="227" r="8.8" stroke-width="2.8"/>
<path d="M799.5 220 V242" stroke-width="2.8"/><circle cx="799.5" cy="231" r="8.8" stroke-width="2.8"/>
<path d="M803.8 250.6 V268.6" stroke-width="2.8"/><circle cx="803.8" cy="259.6" r="8.8" stroke-width="2.8"/>
<path d="M808.1 229.2 V252.8" stroke-width="2.8"/><circle cx="808.1" cy="241" r="8.8" stroke-width="2.8"/>
<path d="M812.4 203 V241" stroke-width="2.8"/><circle cx="812.4" cy="222" r="8.8" stroke-width="2.8"/>
<path d="M816.7 223.3 V246.7" stroke-width="2.8"/><circle cx="816.7" cy="235" r="8.8" stroke-width="2.8"/>
<path d="M821 237.9 V254.1" stroke-width="2.8"/><circle cx="821" cy="246" r="8.8" stroke-width="2.8"/>
<path d="M825.3 241.1 V260.9" stroke-width="2.8"/><circle cx="825.3" cy="251" r="8.8" stroke-width="2.8"/>
<path d="M829.6 226.2 V249.8" stroke-width="2.8"/><circle cx="829.6" cy="238" r="8.8" stroke-width="2.8"/>
<path d="M833.9 226.4 V247.6" stroke-width="2.8"/><circle cx="833.9" cy="237" r="8.8" stroke-width="2.8"/>
<path d="M838.2 203.5 V230.5" stroke-width="2.8"/><circle cx="838.2" cy="217" r="8.8" stroke-width="2.8"/>
<path d="M842.5 233.6 V262.4" stroke-width="2.8"/><circle cx="842.5" cy="248" r="8.8" stroke-width="2.8"/>
<path d="M846.8 220.1 V239.9" stroke-width="2.8"/><circle cx="846.8" cy="230" r="8.8" stroke-width="2.8"/>
<path d="M851 183.4 V225.4" stroke-width="2.8"/><circle cx="851" cy="204.4" r="8.8" stroke-width="2.8"/>
<path d="M855.3 213.8 V234.2" stroke-width="2.8"/><circle cx="855.3" cy="224" r="8.8" stroke-width="2.8"/>
<path d="M859.6 212.7 V233.3" stroke-width="2.8"/><circle cx="859.6" cy="223" r="8.8" stroke-width="2.8"/>
<path d="M863.9 244.9 V261.1" stroke-width="2.8"/><circle cx="863.9" cy="253" r="8.8" stroke-width="2.8"/>
<path d="M868.2 235.1 V252.9" stroke-width="2.8"/><circle cx="868.2" cy="244" r="8.8" stroke-width="2.8"/>
<path d="M872.5 247.9 V266.1" stroke-width="2.8"/><circle cx="872.5" cy="257" r="8.8" stroke-width="2.8"/>
<path d="M876.8 219.2 V244.8" stroke-width="2.8"/><circle cx="876.8" cy="232" r="8.8" stroke-width="2.8"/>
<path d="M881.1 223.9 V246.1" stroke-width="2.8"/><circle cx="881.1" cy="235" r="8.8" stroke-width="2.8"/>
<path d="M885.4 248 V265.2" stroke-width="2.8"/><circle cx="885.4" cy="256.6" r="8.8" stroke-width="2.8"/>
<path d="M889.7 229.8 V252.2" stroke-width="2.8"/><circle cx="889.7" cy="241" r="8.8" stroke-width="2.8"/>
<path d="M894 235.4 V252.6" stroke-width="2.8"/><circle cx="894" cy="244" r="8.8" stroke-width="2.8"/>
<path d="M898.2 235.5 V256.5" stroke-width="2.8"/><circle cx="898.2" cy="246" r="8.8" stroke-width="2.8"/>
<path d="M902.5 233.5 V250.5" stroke-width="2.8"/><circle cx="902.5" cy="242" r="8.8" stroke-width="2.8"/>
<path d="M906.8 243 V259" stroke-width="2.8"/><circle cx="906.8" cy="251" r="8.8" stroke-width="2.8"/>
<path d="M911.1 236.5 V259.5" stroke-width="2.8"/><circle cx="911.1" cy="248" r="8.8" stroke-width="2.8"/>
<path d="M915.4 236.2 V253.8" stroke-width="2.8"/><circle cx="915.4" cy="245" r="8.8" stroke-width="2.8"/>
<path d="M919.7 235.1 V252.9" stroke-width="2.8"/><circle cx="919.7" cy="244" r="8.8" stroke-width="2.8"/>
<path d="M924 258.5 V277.5" stroke-width="2.8"/><circle cx="924" cy="268" r="8.8" stroke-width="2.8"/>
<path d="M928.3 291.9 V324.1" stroke-width="2.8"/><circle cx="928.3" cy="308" r="8.8" stroke-width="2.8"/>
<path d="M932.6 292 V330" stroke-width="2.8"/><circle cx="932.6" cy="311" r="8.8" stroke-width="2.8"/>
<path d="M936.9 334 V362" stroke-width="2.8"/><circle cx="936.9" cy="348" r="8.8" stroke-width="2.8"/>
<path d="M941.2 333 V367" stroke-width="2.8"/><circle cx="941.2" cy="350" r="8.8" stroke-width="2.8"/>
<path d="M945.5 327.8 V360.2" stroke-width="2.8"/><circle cx="945.5" cy="344" r="8.8" stroke-width="2.8"/>
<path d="M949.8 345.1 V378.9" stroke-width="2.8"/><circle cx="949.8" cy="362" r="8.8" stroke-width="2.8"/>
<path d="M954 349 V377" stroke-width="2.8"/><circle cx="954" cy="363" r="8.8" stroke-width="2.8"/>
<path d="M958.3 353.8 V382.2" stroke-width="2.8"/><circle cx="958.3" cy="368" r="8.8" stroke-width="2.8"/>
<path d="M962.6 369 V401" stroke-width="2.8"/><circle cx="962.6" cy="385" r="8.8" stroke-width="2.8"/>
<path d="M966.9 343 V377" stroke-width="2.8"/><circle cx="966.9" cy="360" r="8.8" stroke-width="2.8"/>
<path d="M971.2 361.9 V388.1" stroke-width="2.8"/><circle cx="971.2" cy="375" r="8.8" stroke-width="2.8"/>
<path d="M975.5 362.3 V389.7" stroke-width="2.8"/><circle cx="975.5" cy="376" r="8.8" stroke-width="2.8"/>
<path d="M979.8 367.7 V392.3" stroke-width="2.8"/><circle cx="979.8" cy="380" r="8.8" stroke-width="2.8"/>
<path d="M984.1 376.4 V403.6" stroke-width="2.8"/><circle cx="984.1" cy="390" r="8.8" stroke-width="2.8"/>
<path d="M988.4 367.1 V400.9" stroke-width="2.8"/><circle cx="988.4" cy="384" r="8.8" stroke-width="2.8"/>
<path d="M992.7 360.2 V393.8" stroke-width="2.8"/><circle cx="992.7" cy="377" r="8.8" stroke-width="2.8"/>
<path d="M997 360.1 V389.9" stroke-width="2.8"/><circle cx="997" cy="375" r="8.8" stroke-width="2.8"/>
<path d="M1001.2 357.8 V386.2" stroke-width="2.8"/><circle cx="1001.2" cy="372" r="8.8" stroke-width="2.8"/>
<path d="M1005.5 343.6 V370.4" stroke-width="2.8"/><circle cx="1005.5" cy="357" r="8.8" stroke-width="2.8"/>
<path d="M1009.8 363 V387" stroke-width="2.8"/><circle cx="1009.8" cy="375" r="8.8" stroke-width="2.8"/>
<path d="M1014.1 326 V352" stroke-width="2.8"/><circle cx="1014.1" cy="339" r="8.8" stroke-width="2.8"/>
<path d="M1018.4 330.2 V361.8" stroke-width="2.8"/><circle cx="1018.4" cy="346" r="8.8" stroke-width="2.8"/>
<path d="M1022.7 324.7 V357.3" stroke-width="2.8"/><circle cx="1022.7" cy="341" r="8.8" stroke-width="2.8"/>
<path d="M1027 316.5 V343.5" stroke-width="2.8"/><circle cx="1027" cy="330" r="8.8" stroke-width="2.8"/>
<path d="M1031.3 304.2 V335.8" stroke-width="2.8"/><circle cx="1031.3" cy="320" r="8.8" stroke-width="2.8"/>
<path d="M1035.6 300.2 V331.8" stroke-width="2.8"/><circle cx="1035.6" cy="316" r="8.8" stroke-width="2.8"/>
<path d="M1039.9 279.7 V310.3" stroke-width="2.8"/><circle cx="1039.9" cy="295" r="8.8" stroke-width="2.8"/>
<path d="M1044.2 281.4 V304.6" stroke-width="2.8"/><circle cx="1044.2" cy="293" r="8.8" stroke-width="2.8"/>
<path d="M1048.5 277.9 V302.1" stroke-width="2.8"/><circle cx="1048.5" cy="290" r="8.8" stroke-width="2.8"/>
<path d="M1052.8 279.6 V308.4" stroke-width="2.8"/><circle cx="1052.8" cy="294" r="8.8" stroke-width="2.8"/>
<path d="M1057 267.2 V290.8" stroke-width="2.8"/><circle cx="1057" cy="279" r="8.8" stroke-width="2.8"/>
<path d="M1061.3 274.2 V293.8" stroke-width="2.8"/><circle cx="1061.3" cy="284" r="8.8" stroke-width="2.8"/>
<path d="M1065.6 276.2 V297.8" stroke-width="2.8"/><circle cx="1065.6" cy="287" r="8.8" stroke-width="2.8"/>
<path d="M1069.9 270.9 V295.1" stroke-width="2.8"/><circle cx="1069.9" cy="283" r="8.8" stroke-width="2.8"/>
<path d="M1074.2 252.3 V275.7" stroke-width="2.8"/><circle cx="1074.2" cy="264" r="8.8" stroke-width="2.8"/>
<path d="M1078.5 246.1 V265.9" stroke-width="2.8"/><circle cx="1078.5" cy="256" r="8.8" stroke-width="2.8"/>
<path d="M1082.8 271.2 V296.8" stroke-width="2.8"/><circle cx="1082.8" cy="284" r="8.8" stroke-width="2.8"/>
<path d="M1087.1 271.4 V294.6" stroke-width="2.8"/><circle cx="1087.1" cy="283" r="8.8" stroke-width="2.8"/>
<path d="M1091.4 261.8 V284.2" stroke-width="2.8"/><circle cx="1091.4" cy="273" r="8.8" stroke-width="2.8"/>
<path d="M1095.7 268.4 V285.6" stroke-width="2.8"/><circle cx="1095.7" cy="277" r="8.8" stroke-width="2.8"/>
<path d="M1100 248.9 V271.1" stroke-width="2.8"/><circle cx="1100" cy="260" r="8.8" stroke-width="2.8"/>
<path d="M1104.2 248.3 V267.7" stroke-width="2.8"/><circle cx="1104.2" cy="258" r="8.8" stroke-width="2.8"/>
<path d="M1108.5 245.3 V268.7" stroke-width="2.8"/><circle cx="1108.5" cy="257" r="8.8" stroke-width="2.8"/>
<path d="M1112.8 261.3 V282.7" stroke-width="2.8"/><circle cx="1112.8" cy="272" r="8.8" stroke-width="2.8"/>
<path d="M1117.1 245.7 V270.3" stroke-width="2.8"/><circle cx="1117.1" cy="258" r="8.8" stroke-width="2.8"/>
<path d="M1121.4 245 V275" stroke-width="2.8"/><circle cx="1121.4" cy="260" r="8.8" stroke-width="2.8"/>
<path d="M1125.7 246 V278" stroke-width="2.8"/><circle cx="1125.7" cy="262" r="8.8" stroke-width="2.8"/>
<path d="M1130 242.5 V281.5" stroke-width="2.8"/><circle cx="1130" cy="262" r="8.8" stroke-width="2.8"/>
<path d="M1134.3 228.5 V251.5" stroke-width="2.8"/><circle cx="1134.3" cy="240" r="8.8" stroke-width="2.8"/>
<path d="M1138.6 232 V256" stroke-width="2.8"/><circle cx="1138.6" cy="244" r="8.8" stroke-width="2.8"/>
<path d="M1142.9 238.6 V263.4" stroke-width="2.8"/><circle cx="1142.9" cy="251" r="8.8" stroke-width="2.8"/>
<path d="M1147.2 233.9 V254.1" stroke-width="2.8"/><circle cx="1147.2" cy="244" r="8.8" stroke-width="2.8"/>
<path d="M1151.5 237.5 V262.5" stroke-width="2.8"/><circle cx="1151.5" cy="250" r="8.8" stroke-width="2.8"/>
<path d="M1155.8 238.4 V263.6" stroke-width="2.8"/><circle cx="1155.8" cy="251" r="8.8" stroke-width="2.8"/>
<path d="M1160 230.3 V253.7" stroke-width="2.8"/><circle cx="1160" cy="242" r="8.8" stroke-width="2.8"/>
<path d="M1164.3 243.9 V270.1" stroke-width="2.8"/><circle cx="1164.3" cy="257" r="8.8" stroke-width="2.8"/>
<path d="M1168.6 244 V270" stroke-width="2.8"/><circle cx="1168.6" cy="257" r="8.8" stroke-width="2.8"/>
<path d="M1172.9 227.1 V248.9" stroke-width="2.8"/><circle cx="1172.9" cy="238" r="8.8" stroke-width="2.8"/>
<path d="M1177.2 252 V274" stroke-width="2.8"/><circle cx="1177.2" cy="263" r="8.8" stroke-width="2.8"/>
<path d="M1181.5 263.7 V282.3" stroke-width="2.8"/><circle cx="1181.5" cy="273" r="8.8" stroke-width="2.8"/>
<path d="M1185.8 235.6 V260.4" stroke-width="2.8"/><circle cx="1185.8" cy="248" r="8.8" stroke-width="2.8"/>
<path d="M1190.1 226.1 V251.9" stroke-width="2.8"/><circle cx="1190.1" cy="239" r="8.8" stroke-width="2.8"/>
<path d="M1194.4 248.3 V269.7" stroke-width="2.8"/><circle cx="1194.4" cy="259" r="8.8" stroke-width="2.8"/>
<path d="M1198.7 260.3 V283.7" stroke-width="2.8"/><circle cx="1198.7" cy="272" r="8.8" stroke-width="2.8"/>
<path d="M1203 245.1 V268.9" stroke-width="2.8"/><circle cx="1203" cy="257" r="8.8" stroke-width="2.8"/>
<path d="M1207.2 236.1 V259.9" stroke-width="2.8"/><circle cx="1207.2" cy="248" r="8.8" stroke-width="2.8"/>
<path d="M1211.5 254.7 V273.3" stroke-width="2.8"/><circle cx="1211.5" cy="264" r="8.8" stroke-width="2.8"/>
<path d="M1215.8 234.8 V259.2" stroke-width="2.8"/><circle cx="1215.8" cy="247" r="8.8" stroke-width="2.8"/>
<path d="M1220.1 253.8 V276.2" stroke-width="2.8"/><circle cx="1220.1" cy="265" r="8.8" stroke-width="2.8"/>
<path d="M1224.4 246.4 V269.6" stroke-width="2.8"/><circle cx="1224.4" cy="258" r="8.8" stroke-width="2.8"/>
<path d="M1228.7 228.5 V249.5" stroke-width="2.8"/><circle cx="1228.7" cy="239" r="8.8" stroke-width="2.8"/>
<path d="M1233 205.5 V236.5" stroke-width="2.8"/><circle cx="1233" cy="221" r="8.8" stroke-width="2.8"/>
<path d="M1237.3 237.9 V262.1" stroke-width="2.8"/><circle cx="1237.3" cy="250" r="8.8" stroke-width="2.8"/>
<path d="M1241.6 236.5 V259.5" stroke-width="2.8"/><circle cx="1241.6" cy="248" r="8.8" stroke-width="2.8"/>
<path d="M1245.9 221.1 V244.9" stroke-width="2.8"/><circle cx="1245.9" cy="233" r="8.8" stroke-width="2.8"/>
<path d="M1250.2 226.4 V243.6" stroke-width="2.8"/><circle cx="1250.2" cy="235" r="8.8" stroke-width="2.8"/>
<path d="M1254.5 231.7 V250.3" stroke-width="2.8"/><circle cx="1254.5" cy="241" r="8.8" stroke-width="2.8"/>
<path d="M1258.8 226.4 V247.6" stroke-width="2.8"/><circle cx="1258.8" cy="237" r="8.8" stroke-width="2.8"/>
<path d="M1263 248.4 V271.6" stroke-width="2.8"/><circle cx="1263" cy="260" r="8.8" stroke-width="2.8"/>
<path d="M1267.3 245.5 V264.5" stroke-width="2.8"/><circle cx="1267.3" cy="255" r="8.8" stroke-width="2.8"/>
<path d="M1271.6 241.3 V264.7" stroke-width="2.8"/><circle cx="1271.6" cy="253" r="8.8" stroke-width="2.8"/>
<path d="M1275.9 222.5 V245.5" stroke-width="2.8"/><circle cx="1275.9" cy="234" r="8.8" stroke-width="2.8"/>
<path d="M1280.2 236.3 V253.7" stroke-width="2.8"/><circle cx="1280.2" cy="245" r="8.8" stroke-width="2.8"/>
<path d="M1284.5 236.3 V257.7" stroke-width="2.8"/><circle cx="1284.5" cy="247" r="8.8" stroke-width="2.8"/>
<path d="M1288.8 244.4 V263.6" stroke-width="2.8"/><circle cx="1288.8" cy="254" r="8.8" stroke-width="2.8"/>
<path d="M1293.1 246.2 V263.8" stroke-width="2.8"/><circle cx="1293.1" cy="255" r="8.8" stroke-width="2.8"/>
<path d="M1297.4 242.9 V261.1" stroke-width="2.8"/><circle cx="1297.4" cy="252" r="8.8" stroke-width="2.8"/>
<path d="M1301.7 249 V269" stroke-width="2.8"/><circle cx="1301.7" cy="259" r="8.8" stroke-width="2.8"/>
<path d="M1306 238.6 V257.4" stroke-width="2.8"/><circle cx="1306" cy="248" r="8.8" stroke-width="2.8"/>
<path d="M1310.2 236.6 V255.4" stroke-width="2.8"/><circle cx="1310.2" cy="246" r="8.8" stroke-width="2.8"/>
</g>
<rect x="924" y="147.3" width="64.3" height="12.2" fill="#000"/>
<g transform="translate(875.67 131.1)"><text font-size="37" x="22.58" y="0">0</text><path transform="translate(0 0) scale(37 -36.45)" d="M0.3726 0 L0.2847 0 L0.2847 0.5601 C0.2635 0.5399 0.2358 0.5197 0.2014 0.4995 C0.1671 0.4793 0.1362 0.4642 0.1089 0.4541 L0.1089 0.5391 C0.158 0.5622 0.201 0.5902 0.2378 0.623 C0.2746 0.6559 0.3006 0.6878 0.3159 0.7188 L0.3726 0.7188 Z"/></g>
<g transform="translate(931.2 131.1)"><path transform="translate(0 0) scale(35 -35)" d="M0.085 0.455 L0.085 -0.09 C0.085 -0.14 0.07 -0.17 0.075 -0.19" fill="none" stroke="#000" stroke-width="0.064" stroke-linecap="round" stroke-linejoin="round"/><path transform="translate(0 0) scale(35 -35)" d="M0.082 -0.185 L0.083 -0.186" fill="none" stroke="#000" stroke-width="0.085" stroke-linecap="round" stroke-linejoin="round"/><path transform="translate(0 0) scale(35 -35)" d="M0.085 0.13 C0.09 0.02 0.16 -0.005 0.22 -0.005 C0.31 -0.005 0.385 0.06 0.41 0.15" fill="none" stroke="#000" stroke-width="0.062" stroke-linecap="round" stroke-linejoin="round"/><path transform="translate(0 0) scale(35 -35)" d="M0.415 0.455 L0.415 0.075 C0.415 0.01 0.45 -0.01 0.485 0.0 C0.51 0.008 0.53 0.03 0.54 0.06" fill="none" stroke="#000" stroke-width="0.06" stroke-linecap="round" stroke-linejoin="round"/></g>
<g transform="translate(951.4 131.1)"><text font-size="37" x="0" y="0">M</text></g>
<g transform="translate(990.95 131.1)"><text font-size="37" x="0 27.45" y="0">DA</text></g>
<g transform="translate(752.3 538.2) scale(1 1.06)"><text font-size="37.3" x="-20.74" y="0">0</text></g>
<g transform="translate(752.3 395.2) scale(1 1.06)"><text font-size="37.3" x="-41.49 -20.74" y="0">50</text></g>
<g transform="translate(752.3 252.2) scale(1 1.06)"><text font-size="37.3" x="-41.49 -20.74" y="0">00</text><path transform="translate(-62.23 0) scale(37.3 -34.66)" d="M0.3726 0 L0.2847 0 L0.2847 0.5601 C0.2635 0.5399 0.2358 0.5197 0.2014 0.4995 C0.1671 0.4793 0.1362 0.4642 0.1089 0.4541 L0.1089 0.5391 C0.158 0.5622 0.201 0.5902 0.2378 0.623 C0.2746 0.6559 0.3006 0.6878 0.3159 0.7188 L0.3726 0.7188 Z"/></g>
<g transform="translate(752.3 109.2) scale(1 1.06)"><text font-size="37.3" x="-41.49 -20.74" y="0">50</text><path transform="translate(-62.23 0) scale(37.3 -34.66)" d="M0.3726 0 L0.2847 0 L0.2847 0.5601 C0.2635 0.5399 0.2358 0.5197 0.2014 0.4995 C0.1671 0.4793 0.1362 0.4642 0.1089 0.4541 L0.1089 0.5391 C0.158 0.5622 0.201 0.5902 0.2378 0.623 C0.2746 0.6559 0.3006 0.6878 0.3159 0.7188 L0.3726 0.7188 Z"/></g>
<g transform="translate(924 584.9) scale(1 1.06)"><text font-size="37.3" x="-10.37" y="0">0</text></g>
<g transform="translate(1052.75 584.9) scale(1 1.06)"><text font-size="37.3" x="0" y="0">0</text><path transform="translate(-20.74 0) scale(37.3 -34.66)" d="M0.3726 0 L0.2847 0 L0.2847 0.5601 C0.2635 0.5399 0.2358 0.5197 0.2014 0.4995 C0.1671 0.4793 0.1362 0.4642 0.1089 0.4541 L0.1089 0.5391 C0.158 0.5622 0.201 0.5902 0.2378 0.623 C0.2746 0.6559 0.3006 0.6878 0.3159 0.7188 L0.3726 0.7188 Z"/></g>
<g transform="translate(1181.5 584.9) scale(1 1.06)"><text font-size="37.3" x="-20.74 0" y="0">20</text></g>
<g transform="translate(1310.25 584.9) scale(1 1.06)"><text font-size="37.3" x="-20.74 0" y="0">30</text></g>
<g transform="translate(948.25 635.7)"><text font-size="37.8" x="0 23.05 31.41 62.86 94.3 106.85 138.3 146.66 167.64" y="0">Time(min)</text></g>
<g transform="translate(683 465.42) rotate(-90)"><text font-size="37.8" x="0 24.88 49.76 74.65 111.78 132.48 163.63 184.32 192.39 200.46 210.63 231.32 252.01 282.88 295.13 328.41" y="0">EPSCamplitude(%)</text></g>
<g transform="translate(-2.79 725.1) scale(0.94 1)"><text font-size="45.2" font-weight="bold" x="0" y="0">B</text></g>
<g stroke="#000" stroke-width="5" fill="none">
<path d="M136.3 737.9 V1172.7"/>
<path d="M119 1170.2 H136.3"/>
<path d="M119 1026.9 H136.3"/>
<path d="M119 883.7 H136.3"/>
<path d="M119 740.4 H136.3"/>
</g>
<g stroke="#000" stroke-width="5.5" fill="#fff" stroke-linejoin="miter">
<path d="M189.3 1172.6 V968.4 H263.5 V1172.6"/>
<path d="M300.3 1172.6 V917 H373.3 V1172.6"/>
</g>
<path d="M153 1170.2 H410.8" stroke="#000" stroke-width="5" fill="none"/>
<g stroke="#000" stroke-width="3.5" stroke-linecap="round" stroke-dasharray="0.1 8.8" stroke-dashoffset="-6" fill="none">
<path d="M217.4 884.2 L346 783.2"/>
<path d="M217.4 939.5 L346 830"/>
<path d="M217.4 948.6 L346 942.5"/>
<path d="M217.4 971.2 L346 930.4"/>
<path d="M217.4 978 L346 936"/>
<path d="M217.4 981.5 L346 940.5"/>
<path d="M217.4 986.5 L346 951.4"/>
<path d="M217.4 1001.9 L346 908"/>
<path d="M217.4 1012.4 L346 968.3"/>
</g>
<g stroke="#000" stroke-width="3.4" fill="none">
<path d="M226.4 957.3 V978.5 M216 957.3 H237 M216 978.5 H237"/>
<path d="M336.8 899.8 V933.9 M327 899.8 H347 M327 933.9 H347"/>
</g>
<g stroke="#000" stroke-width="3.4" fill="#fff">
<circle cx="217.4" cy="884.2" r="8.7"/>
<circle cx="217.4" cy="939.5" r="8.7"/>
<circle cx="217.4" cy="948.6" r="8.7"/>
<circle cx="217.4" cy="971.2" r="8.7"/>
<circle cx="217.4" cy="978" r="8.7"/>
<circle cx="217.4" cy="981.5" r="8.7"/>
<circle cx="217.4" cy="986.5" r="8.7"/>
<circle cx="217.4" cy="1001.9" r="8.7"/>
<circle cx="217.4" cy="1012.4" r="8.7"/>
<circle cx="346.3" cy="783.2" r="8.7"/>
<circle cx="346.3" cy="830" r="8.7"/>
<circle cx="346.3" cy="942.5" r="8.7"/>
<circle cx="346.3" cy="930.4" r="8.7"/>
<circle cx="346.3" cy="936" r="8.7"/>
<circle cx="346.3" cy="940.5" r="8.7"/>
<circle cx="346.3" cy="951.4" r="8.7"/>
<circle cx="346.3" cy="908" r="8.7"/>
<circle cx="346.3" cy="968.3" r="8.7"/>
</g>
<g transform="translate(110.2 1183.2) scale(1 1.06)"><text font-size="37.3" x="-20.74" y="0">0</text></g>
<g transform="translate(110.2 1039.93) scale(1 1.06)"><text font-size="37.3" x="-51.85 -31.11 -20.74" y="0">0.5</text></g>
<g transform="translate(110.2 896.67) scale(1 1.06)"><path transform="translate(-20.74 0) scale(37.3 -34.66)" d="M0.3726 0 L0.2847 0 L0.2847 0.5601 C0.2635 0.5399 0.2358 0.5197 0.2014 0.4995 C0.1671 0.4793 0.1362 0.4642 0.1089 0.4541 L0.1089 0.5391 C0.158 0.5622 0.201 0.5902 0.2378 0.623 C0.2746 0.6559 0.3006 0.6878 0.3159 0.7188 L0.3726 0.7188 Z"/></g>
<g transform="translate(110.2 753.4) scale(1 1.06)"><text font-size="37.3" x="-31.11 -20.74" y="0">.5</text><path transform="translate(-51.85 0) scale(37.3 -34.66)" d="M0.3726 0 L0.2847 0 L0.2847 0.5601 C0.2635 0.5399 0.2358 0.5197 0.2014 0.4995 C0.1671 0.4793 0.1362 0.4642 0.1089 0.4541 L0.1089 0.5391 C0.158 0.5622 0.201 0.5902 0.2378 0.623 C0.2746 0.6559 0.3006 0.6878 0.3159 0.7188 L0.3726 0.7188 Z"/></g>
<g transform="translate(38.5 1112.62) rotate(-90)"><text font-size="37.8" x="0 25.78 47.38 56.35 69.51 91.1 112.7 125.86 147.45 169.04 178.01 197.49 230.15 243.31 264.91 275.98 284.95" y="0">Paired-pulseratio</text></g>
<g transform="translate(185.2 1209.5) rotate(30)"><text font-size="31.7" stroke="#fff" stroke-width="0.6" x="0 21.14 38.77 54.62 72.25 79.3 86.34 103.97" y="0">Baseline</text></g>
<g transform="translate(330.4 1209.75) rotate(30) scale(0.9 1)"><text font-size="32" stroke="#fff" stroke-width="0.6" x="0 23.11" y="0">DA</text></g>
<g transform="translate(430.3 725.25) scale(0.918 1)"><text font-size="45.2" font-weight="bold" x="0" y="0">C</text></g>
<g stroke="#000" stroke-width="5" fill="none">
<path d="M537.4 738.8 V1188"/>
<path d="M520 741.3 H537.4"/>
<path d="M520 956.2 H537.4"/>
<path d="M520 1171.1 H537.4"/>
<path d="M537.4 1171.1 H798.5"/>
<path d="M666.7 1171.1 V1188"/>
<path d="M796 1171.1 V1188"/>
</g>
<path d="M537.4 1171.1 L796 741.3" stroke="#000" stroke-width="3.2" stroke-linecap="round" stroke-dasharray="0.1 8.74" stroke-dashoffset="-0.2" fill="none"/>
<g stroke="#000" stroke-width="3.5" fill="#fff">
<circle cx="693.2" cy="841.3" r="8.5"/>
<circle cx="713.9" cy="937" r="8.5"/>
<circle cx="742.3" cy="955.5" r="8.5"/>
<circle cx="636.6" cy="1039.3" r="8.5"/>
<circle cx="663.6" cy="1030.8" r="8.5"/>
<circle cx="667.3" cy="1057.6" r="8.5"/>
<circle cx="672.1" cy="1067" r="8.5"/>
<circle cx="650" cy="1079.1" r="8.5"/>
<circle cx="653.7" cy="1116.5" r="8.5"/>
<circle cx="707.2" cy="1122.7" r="8.5"/>
<path d="M680 1010.1 V1052.6" stroke-width="4" stroke-linecap="round"/>
<circle cx="680" cy="1031.4" r="9.3" stroke-width="4" fill="#b8b8b8"/>
</g>
<g transform="translate(511.5 754.1) scale(1 1.06)"><path transform="translate(-20.74 0) scale(37.3 -34.66)" d="M0.3726 0 L0.2847 0 L0.2847 0.5601 C0.2635 0.5399 0.2358 0.5197 0.2014 0.4995 C0.1671 0.4793 0.1362 0.4642 0.1089 0.4541 L0.1089 0.5391 C0.158 0.5622 0.201 0.5902 0.2378 0.623 C0.2746 0.6559 0.3006 0.6878 0.3159 0.7188 L0.3726 0.7188 Z"/></g>
<g transform="translate(511.5 969) scale(1 1.06)"><text font-size="37.3" x="-51.85 -31.11 -20.74" y="0">0.5</text></g>
<g transform="translate(511.5 1183.9) scale(1 1.06)"><text font-size="37.3" x="-20.74" y="0">0</text></g>
<g transform="translate(537.4 1229.9) scale(1 1.06)"><text font-size="37.3" x="-10.37" y="0">0</text></g>
<g transform="translate(666.7 1229.9) scale(1 1.06)"><text font-size="37.3" x="-25.93 -5.18 5.18" y="0">0.5</text></g>
<g transform="translate(796 1229.9) scale(1 1.06)"><path transform="translate(-10.37 0) scale(37.3 -34.66)" d="M0.3726 0 L0.2847 0 L0.2847 0.5601 C0.2635 0.5399 0.2358 0.5197 0.2014 0.4995 C0.1671 0.4793 0.1362 0.4642 0.1089 0.4541 L0.1089 0.5391 C0.158 0.5622 0.201 0.5902 0.2378 0.623 C0.2746 0.6559 0.3006 0.6878 0.3159 0.7188 L0.3726 0.7188 Z"/></g>
<g transform="translate(528.71 1273)"><text font-size="37.4" x="0 27.3 48.4 59.08 67.68 99.46 120.56 141.92 173.37 194.47 215.56" y="0">Ratioofmean</text></g>
<g transform="translate(528.71 1316)"><text font-size="37.4" x="0 24.87 49.74 74.61 111.86 132.58 163.66 184.39 192.62 200.85 211.17 231.89 252.62" y="0">EPSCamplitude</text></g>
<g transform="translate(452.7 1057.09) rotate(-90)"><text font-size="37.4" x="0 26.26 46.31 55.96 63.52 93.21 113.26 132.55 158.81" y="0">RatioofCV</text></g>
<g transform="translate(437.7 865.77) rotate(-90)"><text font-size="26" x="0 9.04" y="0">-2</text></g>
<g transform="translate(824.84 725.1) scale(0.938 1)"><text font-size="45.2" font-weight="bold" x="0" y="0">D</text></g>
<g stroke="#000" stroke-width="5" fill="none">
<path d="M964.3 737.4 V1171.7" stroke-width="4.7"/>
<path d="M951 1169.2 H964.3" stroke-width="4.5"/>
<path d="M951 1083.3 H964.3" stroke-width="4.5"/>
<path d="M951 997.4 H964.3" stroke-width="4.5"/>
<path d="M951 911.4 H964.3" stroke-width="4.5"/>
<path d="M951 825.5 H964.3" stroke-width="4.5"/>
<path d="M951 739.6 H964.3" stroke-width="4.5"/>
<path d="M981.3 1169.2 H1499"/>
</g>
<g stroke="#000" stroke-width="6.4" fill="none" stroke-linecap="round">
<path d="M1058.4 1167 V1181"/>
<path d="M1136 1167 V1181"/>
<path d="M1238.7 1167 V1181"/>
<path d="M1316.3 1167 V1181"/>
<path d="M1393.9 1167 V1181"/>
</g>
<path d="M981 1122.5 L983.1 1121.3 L985.2 1120.1 L987.2 1118.8 L989.3 1117.5 L991.4 1116.1 L993.5 1114.7 L995.5 1113.3 L997.6 1111.9 L999.7 1110.4 L1001.8 1108.9 L1003.8 1107.4 L1005.9 1105.8 L1008 1104.2 M1014 1099.4 L1016 1097.8 L1018 1096.1 L1020 1094.4 L1022 1092.6 L1024 1090.8 L1026 1089 L1028 1087.2 L1030 1085.3 L1032 1083.4 L1034 1081.4 L1036 1079.4 L1038 1077.4 L1040 1075.4 L1042 1073.3 M1049 1065.8 L1051 1063.6 L1053 1061.3 L1055 1059 L1057 1056.7 L1059 1054.4 L1061 1052 L1063 1049.6 M1067 1044.7 L1069.2 1042 L1071.3 1039.2 L1073.5 1036.5 L1075.7 1033.7 L1077.8 1030.8 L1080 1028 M1084 1022.6 L1086 1019.9 L1088 1017.1 L1090 1014.4 L1092 1011.6 L1094 1008.8 L1096 1006 L1098 1003.1 M1102 997.4 L1104.2 994.3 L1106.3 991.1 L1108.5 988 L1110.7 984.8 L1112.8 981.6 L1115 978.4 M1119 972.5 L1121.1 969.3 L1123.2 966.1 L1125.4 963 L1127.5 959.8 L1129.6 956.6 L1131.8 953.5 L1133.9 950.3 L1136 947.1 M1140 941.2 L1142.2 937.8 L1144.5 934.5 L1146.8 931.2 L1149 927.9 M1153 922 L1155 919.1 L1157 916.3 L1159 913.4 L1161 910.5 L1163 907.7 L1165 904.9 M1169 899.3 L1171.2 896.4 L1173.3 893.4 L1175.5 890.5 L1177.7 887.6 L1179.8 884.7 L1182 881.9 M1186 876.7 L1188 874.2 L1190 871.7 L1192 869.2 L1194 866.7 L1196 864.3 L1198 861.9 L1200 859.5 M1204 854.9 L1206 852.6 L1208 850.4 L1210 848.2 L1212 846 L1214 843.8 L1216 841.7 L1218 839.7 L1220 837.6 L1222 835.6 L1224 833.6 L1226 831.7 L1228 829.7 L1230 827.9 L1232 826 L1234 824.2 L1236 822.4 L1238 820.6 L1240 818.9 L1242 817.2 L1244 815.5 L1246 813.9 L1248 812.3 L1250 810.7 L1252 809.2 L1254 807.7 L1256 806.2 L1258 804.8 L1260 803.3 L1262 802 L1264 800.6 M1273 794.8 L1275 793.6 L1277 792.4 L1279 791.2 L1281 790.1 L1283 789 L1285 787.9 L1287 786.8 L1289 785.8 L1291 784.8 L1293 783.8 L1295 782.8 L1297 781.9 L1299 781 M1307 777.5 L1309.1 776.6 L1311.2 775.8 L1313.2 775 L1315.3 774.2 L1317.4 773.4 L1319.5 772.6 L1321.6 771.9 L1323.7 771.2 L1325.8 770.5 L1327.8 769.8 L1329.9 769.2 L1332 768.5 M1342 765.6 L1344.1 765.1 L1346.2 764.5 L1348.2 764 L1350.3 763.5 L1352.4 763 L1354.5 762.5 L1356.6 762.1 L1358.7 761.6 L1360.8 761.2 L1362.8 760.7 L1364.9 760.3 L1367 759.9 M1377 758.1 L1379.1 757.7 L1381.2 757.4 L1383.2 757 L1385.3 756.7 L1387.4 756.4 L1389.5 756.1 L1391.6 755.8 L1393.7 755.5 L1395.8 755.2 L1397.8 755 L1399.9 754.7 L1402 754.4 M1410 753.5 L1412 753.3 L1414 753.1 L1416 752.9 L1418 752.7 L1420 752.5 L1422 752.3 L1424 752.1 L1426 751.9 L1428 751.8 L1430 751.6 L1432 751.4 L1434 751.3 L1436 751.1 M1444 750.5 L1446.1 750.4 L1448.2 750.3 L1450.2 750.1 L1452.3 750 L1454.4 749.9 L1456.5 749.8 L1458.5 749.6 L1460.6 749.5 L1462.7 749.4 L1464.8 749.3 L1466.8 749.2 L1468.9 749.1 L1471 749" stroke="#000" stroke-width="4.2" fill="none"/>
<g stroke="#000" stroke-width="2.6" fill="#fff" stroke-linecap="round">
<path d="M1058.4 1014.2 V1126.3 M1049.6 1014.2 H1067.2 M1049.6 1126.3 H1067.2"/>
<circle cx="1058.4" cy="1070.2" r="9.2" stroke-width="2.8"/>
<path d="M1136 869.8 V961.7 M1127.2 869.8 H1144.8 M1127.2 961.7 H1144.8"/>
<circle cx="1136" cy="915.6" r="9.2" stroke-width="2.8"/>
<path d="M1238.7 822.9 V887.1 M1229.9 822.9 H1247.5 M1229.9 887.1 H1247.5"/>
<circle cx="1238.7" cy="855.5" r="9.2" stroke-width="2.8"/>
<path d="M1316.3 713.7 V781.4 M1307.5 713.7 H1325.1 M1307.5 781.4 H1325.1"/>
<circle cx="1316.3" cy="746.8" r="9.2" stroke-width="2.8"/>
<path d="M1393.9 709.6 V812 M1385.1 709.6 H1402.7 M1385.1 812 H1402.7"/>
<circle cx="1393.9" cy="760.5" r="9.2" stroke-width="2.8"/>
</g>
<g transform="translate(938.4 1181.8) scale(1 1.06)"><text font-size="37.3" x="-20.74" y="0">0</text></g>
<g transform="translate(938.4 1095.88) scale(1 1.06)"><text font-size="37.3" x="-20.74" y="0">0</text><path transform="translate(-41.49 0) scale(37.3 -34.66)" d="M0.3726 0 L0.2847 0 L0.2847 0.5601 C0.2635 0.5399 0.2358 0.5197 0.2014 0.4995 C0.1671 0.4793 0.1362 0.4642 0.1089 0.4541 L0.1089 0.5391 C0.158 0.5622 0.201 0.5902 0.2378 0.623 C0.2746 0.6559 0.3006 0.6878 0.3159 0.7188 L0.3726 0.7188 Z"/></g>
<g transform="translate(938.4 1009.96) scale(1 1.06)"><text font-size="37.3" x="-41.49 -20.74" y="0">20</text></g>
<g transform="translate(938.4 924.04) scale(1 1.06)"><text font-size="37.3" x="-41.49 -20.74" y="0">30</text></g>
<g transform="translate(938.4 838.12) scale(1 1.06)"><text font-size="37.3" x="-41.49 -20.74" y="0">40</text></g>
<g transform="translate(938.4 752.2) scale(1 1.06)"><text font-size="37.3" x="-41.49 -20.74" y="0">50</text></g>
<g transform="translate(1058.4 1227.4) scale(1 1.06)"><path transform="translate(-10.37 0) scale(37.3 -34.66)" d="M0.3726 0 L0.2847 0 L0.2847 0.5601 C0.2635 0.5399 0.2358 0.5197 0.2014 0.4995 C0.1671 0.4793 0.1362 0.4642 0.1089 0.4541 L0.1089 0.5391 C0.158 0.5622 0.201 0.5902 0.2378 0.623 C0.2746 0.6559 0.3006 0.6878 0.3159 0.7188 L0.3726 0.7188 Z"/></g>
<g transform="translate(1136.04 1227.4) scale(1 1.06)"><text font-size="37.3" x="-10.37" y="0">2</text></g>
<g transform="translate(1238.66 1227.4) scale(1 1.06)"><text font-size="37.3" x="-10.37" y="0">5</text></g>
<g transform="translate(1316.3 1227.4) scale(1 1.06)"><text font-size="37.3" x="0" y="0">0</text><path transform="translate(-20.74 0) scale(37.3 -34.66)" d="M0.3726 0 L0.2847 0 L0.2847 0.5601 C0.2635 0.5399 0.2358 0.5197 0.2014 0.4995 C0.1671 0.4793 0.1362 0.4642 0.1089 0.4541 L0.1089 0.5391 C0.158 0.5622 0.201 0.5902 0.2378 0.623 C0.2746 0.6559 0.3006 0.6878 0.3159 0.7188 L0.3726 0.7188 Z"/></g>
<g transform="translate(1393.94 1227.4) scale(1 1.06)"><text font-size="37.3" x="-20.74 0" y="0">20</text></g>
<g transform="translate(1031.62 991.6)"><text font-size="36.5" x="0 14.54 37.23" y="0">(6)</text></g>
<g transform="translate(1108.42 850.6)"><text font-size="36.5" x="0 14.34 36.83" y="0">(5)</text></g>
<g transform="translate(1202.72 778.2)"><text font-size="36.5" x="0 14.54 37.23" y="0">(5)</text></g>
<g transform="translate(1277.82 692.6)"><text font-size="36.5" x="0 57.93" y="0">()</text><path transform="translate(13.88 0) scale(36.5 -35.95)" d="M0.3726 0 L0.2847 0 L0.2847 0.5601 C0.2635 0.5399 0.2358 0.5197 0.2014 0.4995 C0.1671 0.4793 0.1362 0.4642 0.1089 0.4541 L0.1089 0.5391 C0.158 0.5622 0.201 0.5902 0.2378 0.623 C0.2746 0.6559 0.3006 0.6878 0.3159 0.7188 L0.3726 0.7188 Z"/><path transform="translate(35.9 0) scale(36.5 -35.95)" d="M0.3726 0 L0.2847 0 L0.2847 0.5601 C0.2635 0.5399 0.2358 0.5197 0.2014 0.4995 C0.1671 0.4793 0.1362 0.4642 0.1089 0.4541 L0.1089 0.5391 C0.158 0.5622 0.201 0.5902 0.2378 0.623 C0.2746 0.6559 0.3006 0.6878 0.3159 0.7188 L0.3726 0.7188 Z"/></g>
<g transform="translate(1371.82 689.4)"><text font-size="36.5" x="0 14.39 36.93" y="0">(5)</text></g>
<g transform="translate(1130.41 1290)"><text font-size="37.4" x="0 27.15 62.78 81.62 102.57 123.51 142.36 163.43" y="0">DAconc.(</text></g>
<g transform="translate(1308.85 1290)"><path transform="translate(0 0) scale(35.5 -35.5)" d="M0.085 0.455 L0.085 -0.09 C0.085 -0.14 0.07 -0.17 0.075 -0.19" fill="none" stroke="#000" stroke-width="0.064" stroke-linecap="round" stroke-linejoin="round"/><path transform="translate(0 0) scale(35.5 -35.5)" d="M0.082 -0.185 L0.083 -0.186" fill="none" stroke="#000" stroke-width="0.085" stroke-linecap="round" stroke-linejoin="round"/><path transform="translate(0 0) scale(35.5 -35.5)" d="M0.085 0.13 C0.09 0.02 0.16 -0.005 0.22 -0.005 C0.31 -0.005 0.385 0.06 0.41 0.15" fill="none" stroke="#000" stroke-width="0.062" stroke-linecap="round" stroke-linejoin="round"/><path transform="translate(0 0) scale(35.5 -35.5)" d="M0.415 0.455 L0.415 0.075 C0.415 0.01 0.45 -0.01 0.485 0.0 C0.51 0.008 0.53 0.03 0.54 0.06" fill="none" stroke="#000" stroke-width="0.06" stroke-linecap="round" stroke-linejoin="round"/></g>
<g transform="translate(1329.71 1290)"><text font-size="37.4" x="0 31.09" y="0">M)</text></g>
<g transform="translate(873.5 1043.06) rotate(-90)"><text font-size="37.4" x="0 10.52 31.45 52.37 60.81 81.74 90.17 100.69 109.13 130.05 161.5 174.08 207.46" y="0">Inhibition(%)</text></g>
</svg>
</body></html>
